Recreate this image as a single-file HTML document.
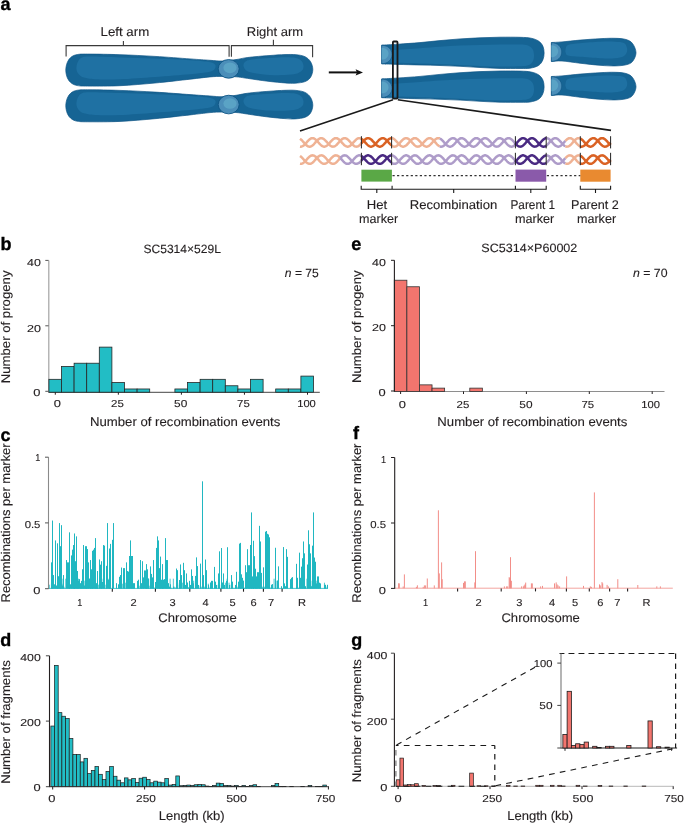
<!DOCTYPE html>
<html><head><meta charset="utf-8"><style>
html,body{margin:0;padding:0;background:#fff;overflow:hidden;}
svg{display:block;will-change:transform;}
text{font-family:"Liberation Sans", sans-serif;}
</style></head><body>
<svg width="685" height="823" viewBox="0 0 685 823" font-family="Liberation Sans, sans-serif" text-rendering="geometricPrecision">
<rect x="0" y="0" width="685" height="823" fill="#fff"/>
<text x="0.50" y="9.60" font-size="18" text-anchor="start" font-weight="bold" fill="#000" stroke="#000" stroke-width="0.35">a</text>
<text x="0.50" y="249.60" font-size="18" text-anchor="start" font-weight="bold" fill="#000" stroke="#000" stroke-width="0.35">b</text>
<text x="0.50" y="440.50" font-size="18" text-anchor="start" font-weight="bold" fill="#000" stroke="#000" stroke-width="0.35">c</text>
<text x="0.30" y="645.80" font-size="18" text-anchor="start" font-weight="bold" fill="#000" stroke="#000" stroke-width="0.35">d</text>
<text x="351.20" y="249.80" font-size="18" text-anchor="start" font-weight="bold" fill="#000" stroke="#000" stroke-width="0.35">e</text>
<text x="353.00" y="439.40" font-size="18" text-anchor="start" font-weight="bold" fill="#000" stroke="#000" stroke-width="0.35">f</text>
<text x="351.20" y="646.20" font-size="18" text-anchor="start" font-weight="bold" fill="#000" stroke="#000" stroke-width="0.35">g</text>
<path d="M66.1,56.5 V45.6 H229.1 V56.8 M123.4,45.6 V40.9" fill="none" stroke="#3a3a3a" stroke-width="1.1"/>
<path d="M231.4,56.8 V45.6 H312.6 V57.2 M273.4,45.6 V39.8" fill="none" stroke="#3a3a3a" stroke-width="1.1"/>
<text x="100.54" y="36.20" font-size="12.6" font-weight="normal" fill="#231f20" stroke="#231f20" stroke-width="0.12" textLength="48.70" lengthAdjust="spacingAndGlyphs">Left arm</text>
<text x="246.76" y="36.00" font-size="12.6" font-weight="normal" fill="#231f20" stroke="#231f20" stroke-width="0.12" textLength="56.48" lengthAdjust="spacingAndGlyphs">Right arm</text>
<path d="M65.80,70.10 C65.80,67.57 66.43,64.65 67.30,62.50 C68.17,60.35 69.30,58.53 71.00,57.20 C72.70,55.87 74.33,55.02 77.50,54.50 C80.67,53.98 82.92,54.07 90.00,54.10 C97.08,54.13 109.17,54.32 120.00,54.70 C130.83,55.08 143.33,55.70 155.00,56.40 C166.67,57.10 180.83,58.25 190.00,58.90 C199.17,59.55 204.67,59.95 210.00,60.30 C215.33,60.65 217.67,61.12 222.00,61.00 C226.33,60.88 232.17,60.12 236.00,59.60 C239.83,59.08 241.83,58.38 245.00,57.90 C248.17,57.42 250.83,57.10 255.00,56.70 C259.17,56.30 265.00,55.85 270.00,55.50 C275.00,55.15 280.67,54.73 285.00,54.60 C289.33,54.47 292.67,54.35 296.00,54.70 C299.33,55.05 302.57,55.52 305.00,56.70 C307.43,57.88 309.30,59.67 310.60,61.80 C311.90,63.93 312.80,66.93 312.80,69.50 C312.80,72.07 311.90,75.18 310.60,77.20 C309.30,79.22 307.60,80.60 305.00,81.60 C302.40,82.60 298.33,82.98 295.00,83.20 C291.67,83.42 289.17,83.18 285.00,82.90 C280.83,82.62 275.00,82.07 270.00,81.50 C265.00,80.93 259.17,80.08 255.00,79.50 C250.83,78.92 248.17,78.45 245.00,78.00 C241.83,77.55 239.83,77.07 236.00,76.80 C232.17,76.53 226.33,76.38 222.00,76.40 C217.67,76.42 215.33,76.43 210.00,76.90 C204.67,77.37 199.17,78.18 190.00,79.20 C180.83,80.22 166.67,81.92 155.00,83.00 C143.33,84.08 130.83,85.18 120.00,85.70 C109.17,86.22 97.08,86.12 90.00,86.10 C82.92,86.08 80.67,86.15 77.50,85.60 C74.33,85.05 72.70,84.12 71.00,82.80 C69.30,81.48 68.17,79.82 67.30,77.70 C66.43,75.58 65.80,72.63 65.80,70.10 Z" fill="#166494" stroke="#0f5585" stroke-width="0.7"/>
<path d="M76.40,68.40 C76.32,66.32 77.07,63.30 78.00,61.50 C78.93,59.70 80.00,58.43 82.00,57.60 C84.00,56.77 83.67,56.53 90.00,56.50 C96.33,56.47 109.17,57.05 120.00,57.40 C130.83,57.75 143.33,58.13 155.00,58.60 C166.67,59.07 181.17,59.67 190.00,60.20 C198.83,60.73 203.92,61.17 208.00,61.80 C212.08,62.43 213.25,63.13 214.50,64.00 C215.75,64.87 215.75,65.92 215.50,67.00 C215.25,68.08 214.75,69.57 213.00,70.50 C211.25,71.43 208.83,71.97 205.00,72.60 C201.17,73.23 198.33,73.57 190.00,74.30 C181.67,75.03 166.67,76.17 155.00,77.00 C143.33,77.83 130.00,78.92 120.00,79.30 C110.00,79.68 101.00,79.58 95.00,79.30 C89.00,79.02 86.75,78.48 84.00,77.60 C81.25,76.72 79.77,75.53 78.50,74.00 C77.23,72.47 76.48,70.48 76.40,68.40 Z" fill="#1f71a3"/>
<path d="M243.50,66.00 C243.25,64.42 244.08,62.60 245.50,61.50 C246.92,60.40 247.92,59.97 252.00,59.40 C256.08,58.83 264.50,58.45 270.00,58.10 C275.50,57.75 280.67,57.32 285.00,57.30 C289.33,57.28 293.25,57.38 296.00,58.00 C298.75,58.62 300.25,59.67 301.50,61.00 C302.75,62.33 303.42,64.42 303.50,66.00 C303.58,67.58 303.25,69.20 302.00,70.50 C300.75,71.80 298.83,73.05 296.00,73.80 C293.17,74.55 289.33,74.82 285.00,75.00 C280.67,75.18 275.00,75.20 270.00,74.90 C265.00,74.60 258.83,73.85 255.00,73.20 C251.17,72.55 248.92,72.20 247.00,71.00 C245.08,69.80 243.75,67.58 243.50,66.00 Z" fill="#1f71a3"/>
<ellipse cx="228.7" cy="68.85" rx="10.5" ry="9.3" fill="#4b8eb9" stroke="#0f5585" stroke-width="0.9"/>
<ellipse cx="230.0" cy="67.85" rx="6.6" ry="5.3" fill="#5aa3c5"/>
<path d="M65.80,105.80 C65.80,103.27 66.43,100.35 67.30,98.20 C68.17,96.05 69.30,94.23 71.00,92.90 C72.70,91.57 74.33,90.72 77.50,90.20 C80.67,89.68 82.92,89.77 90.00,89.80 C97.08,89.83 109.17,90.02 120.00,90.40 C130.83,90.78 143.33,91.40 155.00,92.10 C166.67,92.80 180.83,93.95 190.00,94.60 C199.17,95.25 204.67,95.65 210.00,96.00 C215.33,96.35 217.67,96.82 222.00,96.70 C226.33,96.58 232.17,95.82 236.00,95.30 C239.83,94.78 241.83,94.08 245.00,93.60 C248.17,93.12 250.83,92.80 255.00,92.40 C259.17,92.00 265.00,91.55 270.00,91.20 C275.00,90.85 280.67,90.43 285.00,90.30 C289.33,90.17 292.67,90.05 296.00,90.40 C299.33,90.75 302.57,91.22 305.00,92.40 C307.43,93.58 309.30,95.37 310.60,97.50 C311.90,99.63 312.80,102.63 312.80,105.20 C312.80,107.77 311.90,110.88 310.60,112.90 C309.30,114.92 307.60,116.30 305.00,117.30 C302.40,118.30 298.33,118.68 295.00,118.90 C291.67,119.12 289.17,118.88 285.00,118.60 C280.83,118.32 275.00,117.77 270.00,117.20 C265.00,116.63 259.17,115.78 255.00,115.20 C250.83,114.62 248.17,114.15 245.00,113.70 C241.83,113.25 239.83,112.77 236.00,112.50 C232.17,112.23 226.33,112.08 222.00,112.10 C217.67,112.12 215.33,112.13 210.00,112.60 C204.67,113.07 199.17,113.88 190.00,114.90 C180.83,115.92 166.67,117.62 155.00,118.70 C143.33,119.78 130.83,120.88 120.00,121.40 C109.17,121.92 97.08,121.82 90.00,121.80 C82.92,121.78 80.67,121.85 77.50,121.30 C74.33,120.75 72.70,119.82 71.00,118.50 C69.30,117.18 68.17,115.52 67.30,113.40 C66.43,111.28 65.80,108.33 65.80,105.80 Z" fill="#166494" stroke="#0f5585" stroke-width="0.7"/>
<path d="M76.40,104.10 C76.32,102.02 77.07,99.00 78.00,97.20 C78.93,95.40 80.00,94.13 82.00,93.30 C84.00,92.47 83.67,92.23 90.00,92.20 C96.33,92.17 109.17,92.75 120.00,93.10 C130.83,93.45 143.33,93.83 155.00,94.30 C166.67,94.77 181.17,95.37 190.00,95.90 C198.83,96.43 203.92,96.87 208.00,97.50 C212.08,98.13 213.25,98.83 214.50,99.70 C215.75,100.57 215.75,101.62 215.50,102.70 C215.25,103.78 214.75,105.27 213.00,106.20 C211.25,107.13 208.83,107.67 205.00,108.30 C201.17,108.93 198.33,109.27 190.00,110.00 C181.67,110.73 166.67,111.87 155.00,112.70 C143.33,113.53 130.00,114.62 120.00,115.00 C110.00,115.38 101.00,115.28 95.00,115.00 C89.00,114.72 86.75,114.18 84.00,113.30 C81.25,112.42 79.77,111.23 78.50,109.70 C77.23,108.17 76.48,106.18 76.40,104.10 Z" fill="#1f71a3"/>
<path d="M243.50,101.70 C243.25,100.12 244.08,98.30 245.50,97.20 C246.92,96.10 247.92,95.67 252.00,95.10 C256.08,94.53 264.50,94.15 270.00,93.80 C275.50,93.45 280.67,93.02 285.00,93.00 C289.33,92.98 293.25,93.08 296.00,93.70 C298.75,94.32 300.25,95.37 301.50,96.70 C302.75,98.03 303.42,100.12 303.50,101.70 C303.58,103.28 303.25,104.90 302.00,106.20 C300.75,107.50 298.83,108.75 296.00,109.50 C293.17,110.25 289.33,110.52 285.00,110.70 C280.67,110.88 275.00,110.90 270.00,110.60 C265.00,110.30 258.83,109.55 255.00,108.90 C251.17,108.25 248.92,107.90 247.00,106.70 C245.08,105.50 243.75,103.28 243.50,101.70 Z" fill="#1f71a3"/>
<ellipse cx="228.7" cy="104.55" rx="10.5" ry="9.3" fill="#4b8eb9" stroke="#0f5585" stroke-width="0.9"/>
<ellipse cx="230.0" cy="103.55" rx="6.6" ry="5.3" fill="#5aa3c5"/>
<line x1="328.80" y1="72.40" x2="358.50" y2="72.40" stroke="#111" stroke-width="2.0" />
<path d="M355.6,69.2 L363.0,72.4 L355.6,75.6 L357.0,72.4 Z" fill="#111"/>
<path d="M381.70,45.10 C384.42,44.95 391.62,44.62 398.00,44.20 C404.38,43.78 413.00,43.20 420.00,42.60 C427.00,42.00 433.33,41.22 440.00,40.60 C446.67,39.98 453.33,39.37 460.00,38.90 C466.67,38.43 473.33,38.08 480.00,37.80 C486.67,37.52 493.33,37.28 500.00,37.20 C506.67,37.12 514.83,37.13 520.00,37.30 C525.17,37.47 527.92,37.58 531.00,38.20 C534.08,38.82 536.53,39.70 538.50,41.00 C540.47,42.30 541.87,44.00 542.80,46.00 C543.73,48.00 544.10,50.67 544.10,53.00 C544.10,55.33 543.73,57.92 542.80,60.00 C541.87,62.08 540.63,64.13 538.50,65.50 C536.37,66.87 533.08,67.70 530.00,68.20 C526.92,68.70 525.00,68.47 520.00,68.50 C515.00,68.53 506.67,68.57 500.00,68.40 C493.33,68.23 486.67,67.85 480.00,67.50 C473.33,67.15 466.67,66.63 460.00,66.30 C453.33,65.97 446.67,65.72 440.00,65.50 C433.33,65.28 427.00,65.18 420.00,65.00 C413.00,64.82 404.38,64.58 398.00,64.40 C391.62,64.22 384.42,63.98 381.70,63.90 Z" fill="#166494" stroke="#0f5585" stroke-width="0.7" stroke-linejoin="round"/>
<path d="M384.00,62.60 C385.33,62.62 386.00,62.57 392.00,62.70 C398.00,62.83 412.00,63.18 420.00,63.40 C428.00,63.62 433.33,63.73 440.00,64.00 C446.67,64.27 453.33,64.67 460.00,65.00 C466.67,65.33 473.33,65.73 480.00,66.00 C486.67,66.27 493.33,66.55 500.00,66.60 C506.67,66.65 515.17,66.57 520.00,66.30 C524.83,66.03 526.83,65.88 529.00,65.00 C531.17,64.12 532.17,62.67 533.00,61.00 C533.83,59.33 534.08,57.00 534.00,55.00 C533.92,53.00 533.50,50.58 532.50,49.00 C531.50,47.42 530.08,46.25 528.00,45.50 C525.92,44.75 524.67,44.67 520.00,44.50 C515.33,44.33 506.67,44.42 500.00,44.50 C493.33,44.58 486.67,44.82 480.00,45.00 C473.33,45.18 466.67,45.30 460.00,45.60 C453.33,45.90 446.67,46.37 440.00,46.80 C433.33,47.23 428.00,47.67 420.00,48.20 C412.00,48.73 398.00,49.63 392.00,50.00 C386.00,50.37 385.33,50.33 384.00,50.40 Z" fill="#1f71a3"/>
<path d="M381.7,45.30 C388.2,45.30 392.0,49.50 392.0,54.50 C392.0,59.50 388.2,63.70 381.7,63.70 Z" fill="#4b8eb9" stroke="#0f5585" stroke-width="0.6"/>
<path d="M381.7,47.80 C385.7,47.80 388.5,50.50 388.5,53.50 C388.5,57.00 385.7,59.70 381.7,59.70 Z" fill="#5aa3c5"/>
<path d="M381.70,78.90 C384.42,78.75 391.62,78.42 398.00,78.00 C404.38,77.58 413.00,77.00 420.00,76.40 C427.00,75.80 433.33,75.02 440.00,74.40 C446.67,73.78 453.33,73.17 460.00,72.70 C466.67,72.23 473.33,71.88 480.00,71.60 C486.67,71.32 493.33,71.08 500.00,71.00 C506.67,70.92 514.83,70.93 520.00,71.10 C525.17,71.27 527.92,71.38 531.00,72.00 C534.08,72.62 536.53,73.50 538.50,74.80 C540.47,76.10 541.87,77.80 542.80,79.80 C543.73,81.80 544.10,84.47 544.10,86.80 C544.10,89.13 543.73,91.72 542.80,93.80 C541.87,95.88 540.63,97.93 538.50,99.30 C536.37,100.67 533.08,101.50 530.00,102.00 C526.92,102.50 525.00,102.27 520.00,102.30 C515.00,102.33 506.67,102.37 500.00,102.20 C493.33,102.03 486.67,101.65 480.00,101.30 C473.33,100.95 466.67,100.43 460.00,100.10 C453.33,99.77 446.67,99.52 440.00,99.30 C433.33,99.08 427.00,98.98 420.00,98.80 C413.00,98.62 404.38,98.38 398.00,98.20 C391.62,98.02 384.42,97.78 381.70,97.70 Z" fill="#166494" stroke="#0f5585" stroke-width="0.7" stroke-linejoin="round"/>
<path d="M384.00,96.40 C385.33,96.42 386.00,96.37 392.00,96.50 C398.00,96.63 412.00,96.98 420.00,97.20 C428.00,97.42 433.33,97.53 440.00,97.80 C446.67,98.07 453.33,98.47 460.00,98.80 C466.67,99.13 473.33,99.53 480.00,99.80 C486.67,100.07 493.33,100.35 500.00,100.40 C506.67,100.45 515.17,100.37 520.00,100.10 C524.83,99.83 526.83,99.68 529.00,98.80 C531.17,97.92 532.17,96.47 533.00,94.80 C533.83,93.13 534.08,90.80 534.00,88.80 C533.92,86.80 533.50,84.38 532.50,82.80 C531.50,81.22 530.08,80.05 528.00,79.30 C525.92,78.55 524.67,78.47 520.00,78.30 C515.33,78.13 506.67,78.22 500.00,78.30 C493.33,78.38 486.67,78.62 480.00,78.80 C473.33,78.98 466.67,79.10 460.00,79.40 C453.33,79.70 446.67,80.17 440.00,80.60 C433.33,81.03 428.00,81.47 420.00,82.00 C412.00,82.53 398.00,83.43 392.00,83.80 C386.00,84.17 385.33,84.13 384.00,84.20 Z" fill="#1f71a3"/>
<path d="M381.7,79.10 C388.2,79.10 392.0,83.30 392.0,88.30 C392.0,93.30 388.2,97.50 381.7,97.50 Z" fill="#4b8eb9" stroke="#0f5585" stroke-width="0.6"/>
<path d="M381.7,81.60 C385.7,81.60 388.5,84.30 388.5,87.30 C388.5,90.80 385.7,93.50 381.7,93.50 Z" fill="#5aa3c5"/>
<path d="M551.40,42.50 C553.17,42.40 557.23,42.30 562.00,41.90 C566.77,41.50 573.67,40.63 580.00,40.10 C586.33,39.57 594.17,39.00 600.00,38.70 C605.83,38.40 610.67,38.17 615.00,38.30 C619.33,38.43 623.08,38.63 626.00,39.50 C628.92,40.37 630.83,41.28 632.50,43.50 C634.17,45.72 636.00,49.80 636.00,52.80 C636.00,55.80 634.17,59.50 632.50,61.50 C630.83,63.50 628.92,64.07 626.00,64.80 C623.08,65.53 619.33,65.82 615.00,65.90 C610.67,65.98 605.83,65.75 600.00,65.30 C594.17,64.85 586.33,63.92 580.00,63.20 C573.67,62.48 566.77,61.28 562.00,61.00 C557.23,60.72 553.17,61.42 551.40,61.50 Z" fill="#166494" stroke="#0f5585" stroke-width="0.7" stroke-linejoin="round"/>
<path d="M565.50,50.00 C565.87,48.67 565.58,46.13 568.00,45.00 C570.42,43.87 574.67,43.73 580.00,43.20 C585.33,42.67 594.17,42.05 600.00,41.80 C605.83,41.55 611.00,41.50 615.00,41.70 C619.00,41.90 622.00,41.95 624.00,43.00 C626.00,44.05 626.58,46.33 627.00,48.00 C627.42,49.67 627.33,51.50 626.50,53.00 C625.67,54.50 624.42,56.10 622.00,57.00 C619.58,57.90 615.67,58.20 612.00,58.40 C608.33,58.60 605.33,58.47 600.00,58.20 C594.67,57.93 585.33,57.25 580.00,56.80 C574.67,56.35 570.37,56.13 568.00,55.50 C565.63,54.87 566.22,53.92 565.80,53.00 C565.38,52.08 565.13,51.33 565.50,50.00 Z" fill="#1f71a3"/>
<path d="M551.4,42.70 C557.9,42.70 561.6999999999999,47.00 561.6999999999999,52.00 C561.6999999999999,57.00 557.9,61.30 551.4,61.30 Z" fill="#4b8eb9" stroke="#0f5585" stroke-width="0.6"/>
<path d="M551.4,45.20 C555.4,45.20 558.1999999999999,48.00 558.1999999999999,51.00 C558.1999999999999,54.50 555.4,57.30 551.4,57.30 Z" fill="#5aa3c5"/>
<path d="M551.40,76.50 C553.17,76.40 557.23,76.30 562.00,75.90 C566.77,75.50 573.67,74.63 580.00,74.10 C586.33,73.57 594.17,73.00 600.00,72.70 C605.83,72.40 610.67,72.17 615.00,72.30 C619.33,72.43 623.08,72.63 626.00,73.50 C628.92,74.37 630.83,75.28 632.50,77.50 C634.17,79.72 636.00,83.80 636.00,86.80 C636.00,89.80 634.17,93.50 632.50,95.50 C630.83,97.50 628.92,98.07 626.00,98.80 C623.08,99.53 619.33,99.82 615.00,99.90 C610.67,99.98 605.83,99.75 600.00,99.30 C594.17,98.85 586.33,97.92 580.00,97.20 C573.67,96.48 566.77,95.28 562.00,95.00 C557.23,94.72 553.17,95.42 551.40,95.50 Z" fill="#166494" stroke="#0f5585" stroke-width="0.7" stroke-linejoin="round"/>
<path d="M565.50,84.00 C565.87,82.67 565.58,80.13 568.00,79.00 C570.42,77.87 574.67,77.73 580.00,77.20 C585.33,76.67 594.17,76.05 600.00,75.80 C605.83,75.55 611.00,75.50 615.00,75.70 C619.00,75.90 622.00,75.95 624.00,77.00 C626.00,78.05 626.58,80.33 627.00,82.00 C627.42,83.67 627.33,85.50 626.50,87.00 C625.67,88.50 624.42,90.10 622.00,91.00 C619.58,91.90 615.67,92.20 612.00,92.40 C608.33,92.60 605.33,92.47 600.00,92.20 C594.67,91.93 585.33,91.25 580.00,90.80 C574.67,90.35 570.37,90.13 568.00,89.50 C565.63,88.87 566.22,87.92 565.80,87.00 C565.38,86.08 565.13,85.33 565.50,84.00 Z" fill="#1f71a3"/>
<path d="M551.4,76.70 C557.9,76.70 561.6999999999999,81.00 561.6999999999999,86.00 C561.6999999999999,91.00 557.9,95.30 551.4,95.30 Z" fill="#4b8eb9" stroke="#0f5585" stroke-width="0.6"/>
<path d="M551.4,79.20 C555.4,79.20 558.1999999999999,82.00 558.1999999999999,85.00 C558.1999999999999,88.50 555.4,91.30 551.4,91.30 Z" fill="#5aa3c5"/>
<rect x="392.9" y="41.5" width="4.6" height="57.1" rx="0.8" fill="none" stroke="#1a1a1a" stroke-width="1.8"/>
<path d="M300,131 L393,99.8 M397.8,99.8 L611,130.4" fill="none" stroke="#1a1a1a" stroke-width="1.6"/>
<polyline points="300.00,146.55 300.50,146.64 301.00,146.64 301.50,146.58 302.00,146.43 302.50,146.22 303.00,145.93 303.49,145.59 303.99,145.18 304.49,144.73 304.99,144.23 305.49,143.70 305.99,143.15 306.49,142.58 306.99,142.01 307.49,141.45 307.99,140.91 308.49,140.39 308.99,139.91 309.48,139.47 309.98,139.08 310.48,138.76 310.98,138.50 311.48,138.31 311.98,138.19 312.48,138.15 312.98,138.19 313.48,138.30 313.98,138.48 314.48,138.73 314.98,139.05 315.47,139.44 315.97,139.87 316.47,140.35 316.97,140.86 317.47,141.41 317.97,141.97 318.47,142.54 318.97,143.10 319.47,143.66 319.97,144.19 320.47,144.69 320.97,145.15 321.47,145.55 321.96,145.91 322.46,146.20 322.96,146.42 323.46,146.57 323.96,146.64 324.46,146.64 324.96,146.56 325.46,146.41 325.96,146.19 326.46,145.89 326.96,145.54 327.46,145.13 327.95,144.67 328.45,144.17 328.95,143.63 329.45,143.08 329.95,142.51 330.45,141.94 330.95,141.38 331.45,140.84 331.95,140.33 332.45,139.85 332.95,139.42 333.45,139.04 333.94,138.72 334.44,138.47 334.94,138.29 335.44,138.18 335.94,138.15 336.44,138.19 336.94,138.31 337.44,138.51 337.94,138.77 338.44,139.10 338.94,139.49 339.44,139.93 339.93,140.41 340.43,140.93 340.93,141.48 341.43,142.04 341.93,142.61 342.43,143.17 342.93,143.72 343.43,144.25 343.93,144.75 344.43,145.20 344.93,145.60 345.43,145.95 345.93,146.23 346.42,146.44 346.92,146.58 347.42,146.65 347.92,146.63 348.42,146.55 348.92,146.39 349.42,146.15 349.92,145.85 350.42,145.49 350.92,145.07 351.42,144.61 351.92,144.10 352.41,143.57 352.91,143.01 353.41,142.44 353.91,141.87 354.41,141.32 354.91,140.78 355.41,140.27 355.91,139.79 356.41,139.37 356.91,139.00 357.41,138.69 357.91,138.44 358.40,138.27 358.90,138.17 359.40,138.15 359.90,138.21 360.40,138.33 360.90,138.54 361.40,138.81" fill="none" stroke="#efb294" stroke-width="2.5" stroke-linecap="butt"/>
<polyline points="300.00,138.81 300.50,139.14 301.00,139.54 301.50,139.98 302.00,140.47 302.50,141.00 303.00,141.54 303.49,142.11 303.99,142.68 304.49,143.24 304.99,143.79 305.49,144.32 305.99,144.81 306.49,145.25 306.99,145.65 307.49,145.98 307.99,146.26 308.49,146.46 308.99,146.59 309.48,146.65 309.98,146.63 310.48,146.53 310.98,146.36 311.48,146.12 311.98,145.81 312.48,145.44 312.98,145.02 313.48,144.55 313.98,144.04 314.48,143.50 314.98,142.94 315.47,142.37 315.97,141.80 316.47,141.25 316.97,140.71 317.47,140.20 317.97,139.74 318.47,139.32 318.97,138.96 319.47,138.65 319.97,138.42 320.47,138.26 320.97,138.17 321.47,138.15 321.96,138.22 322.46,138.36 322.96,138.57 323.46,138.85 323.96,139.19 324.46,139.59 324.96,140.04 325.46,140.54 325.96,141.06 326.46,141.61 326.96,142.18 327.46,142.75 327.95,143.31 328.45,143.86 328.95,144.38 329.45,144.86 329.95,145.30 330.45,145.69 330.95,146.02 331.45,146.29 331.95,146.48 332.45,146.60 332.95,146.65 333.45,146.62 333.94,146.51 334.44,146.33 334.94,146.08 335.44,145.77 335.94,145.39 336.44,144.96 336.94,144.49 337.44,143.97 337.94,143.43 338.44,142.87 338.94,142.30 339.44,141.73 339.93,141.18 340.43,140.65 340.93,140.14 341.43,139.68 341.93,139.27 342.43,138.91 342.93,138.62 343.43,138.40 343.93,138.24 344.43,138.16 344.93,138.16 345.43,138.23 345.93,138.38 346.42,138.60 346.92,138.89 347.42,139.24 347.92,139.64 348.42,140.10 348.92,140.60 349.42,141.13 349.92,141.68 350.42,142.25 350.92,142.82 351.42,143.38 351.92,143.92 352.41,144.44 352.91,144.92 353.41,145.35 353.91,145.74 354.41,146.06 354.91,146.31 355.41,146.50 355.91,146.61 356.41,146.65 356.91,146.61 357.41,146.50 357.91,146.31 358.40,146.05 358.90,145.72 359.40,145.34 359.90,144.91 360.40,144.42 360.90,143.91 361.40,143.36" fill="none" stroke="#efb294" stroke-width="2.5" stroke-linecap="butt"/>
<polyline points="361.40,138.81 361.89,139.14 362.38,139.53 362.88,139.96 363.37,140.44 363.86,140.96 364.35,141.49 364.84,142.05 365.33,142.61 365.83,143.17 366.32,143.71 366.81,144.23 367.30,144.72 367.79,145.17 368.29,145.57 368.78,145.92 369.27,146.20 369.76,146.42 370.25,146.56 370.74,146.64 371.24,146.64 371.73,146.57 372.22,146.42 372.71,146.21 373.20,145.93 373.70,145.58 374.19,145.19 374.68,144.74 375.17,144.25 375.66,143.73 376.15,143.19 376.65,142.63 377.14,142.07 377.63,141.52 378.12,140.98 378.61,140.46 379.10,139.98 379.60,139.54 380.09,139.15 380.58,138.82 381.07,138.55 381.56,138.35 382.06,138.21 382.55,138.15 383.04,138.17 383.53,138.26 384.02,138.42 384.51,138.64 385.01,138.94 385.50,139.29 385.99,139.70 386.48,140.16 386.97,140.65 387.47,141.18 387.96,141.73 388.45,142.28 388.94,142.85 389.43,143.40 389.92,143.93 390.42,144.44 390.91,144.91 391.40,145.34" fill="none" stroke="#da6224" stroke-width="2.5" stroke-linecap="butt"/>
<polyline points="361.40,143.36 361.89,142.81 362.38,142.25 362.88,141.69 363.37,141.14 363.86,140.62 364.35,140.13 364.84,139.67 365.33,139.27 365.83,138.92 366.32,138.63 366.81,138.40 367.30,138.25 367.79,138.16 368.29,138.16 368.78,138.22 369.27,138.36 369.76,138.57 370.25,138.84 370.74,139.18 371.24,139.57 371.73,140.01 372.22,140.50 372.71,141.01 373.20,141.55 373.70,142.11 374.19,142.67 374.68,143.23 375.17,143.77 375.66,144.29 376.15,144.77 376.65,145.21 377.14,145.61 377.63,145.95 378.12,146.23 378.61,146.44 379.10,146.58 379.60,146.64 380.09,146.64 380.58,146.56 381.07,146.40 381.56,146.18 382.06,145.89 382.55,145.54 383.04,145.14 383.53,144.69 384.02,144.20 384.51,143.68 385.01,143.13 385.50,142.57 385.99,142.01 386.48,141.46 386.97,140.92 387.47,140.41 387.96,139.93 388.45,139.50 388.94,139.11 389.43,138.79 389.92,138.52 390.42,138.33 390.91,138.20 391.40,138.15" fill="none" stroke="#da6224" stroke-width="2.5" stroke-linecap="butt"/>
<polyline points="391.40,145.34 391.90,145.73 392.40,146.05 392.90,146.31 393.40,146.50 393.89,146.61 394.39,146.65 394.89,146.61 395.39,146.50 395.89,146.31 396.39,146.06 396.89,145.74 397.39,145.35 397.89,144.92 398.39,144.44 398.88,143.92 399.38,143.38 399.88,142.82 400.38,142.25 400.88,141.68 401.38,141.13 401.88,140.60 402.38,140.10 402.88,139.65 403.38,139.24 403.87,138.89 404.37,138.60 404.87,138.38 405.37,138.23 405.87,138.16 406.37,138.16 406.87,138.24 407.37,138.39 407.87,138.62 408.36,138.91 408.86,139.27 409.36,139.68 409.86,140.14 410.36,140.64 410.86,141.17 411.36,141.73 411.86,142.29 412.36,142.86 412.86,143.42 413.35,143.97 413.85,144.48 414.35,144.96 414.85,145.39 415.35,145.76 415.85,146.08 416.35,146.33 416.85,146.51 417.35,146.62 417.85,146.65 418.34,146.60 418.84,146.48 419.34,146.29 419.84,146.03 420.34,145.70 420.84,145.31 421.34,144.87 421.84,144.39 422.34,143.87 422.84,143.32 423.33,142.76 423.83,142.19 424.33,141.63 424.83,141.07 425.33,140.55 425.83,140.05 426.33,139.60 426.83,139.20 427.33,138.85 427.82,138.57 428.32,138.36 428.82,138.22 429.32,138.15 429.82,138.17 430.32,138.25 430.82,138.41 431.32,138.65 431.82,138.95 432.32,139.31 432.81,139.72 433.31,140.19 433.81,140.69 434.31,141.23 434.81,141.79 435.31,142.35 435.81,142.92 436.31,143.48 436.81,144.02 437.31,144.53 437.80,145.00 438.30,145.43 438.80,145.80 439.30,146.11 439.80,146.35" fill="none" stroke="#efb294" stroke-width="2.5" stroke-linecap="butt"/>
<polyline points="391.40,138.15 391.90,138.17 392.40,138.27 392.90,138.45 393.40,138.69 393.89,139.00 394.39,139.37 394.89,139.79 395.39,140.27 395.89,140.78 396.39,141.32 396.89,141.87 397.39,142.44 397.89,143.01 398.39,143.57 398.88,144.10 399.38,144.61 399.88,145.07 400.38,145.49 400.88,145.85 401.38,146.15 401.88,146.39 402.38,146.55 402.88,146.63 403.38,146.65 403.87,146.58 404.37,146.44 404.87,146.23 405.37,145.95 405.87,145.60 406.37,145.20 406.87,144.75 407.37,144.26 407.87,143.73 408.36,143.18 408.86,142.61 409.36,142.04 409.86,141.48 410.36,140.93 410.86,140.42 411.36,139.93 411.86,139.49 412.36,139.10 412.86,138.77 413.35,138.51 413.85,138.32 414.35,138.20 414.85,138.15 415.35,138.18 415.85,138.29 416.35,138.47 416.85,138.72 417.35,139.03 417.85,139.41 418.34,139.84 418.84,140.32 419.34,140.83 419.84,141.37 420.34,141.93 420.84,142.50 421.34,143.07 421.84,143.62 422.34,144.16 422.84,144.66 423.33,145.12 423.83,145.53 424.33,145.89 424.83,146.18 425.33,146.41 425.83,146.56 426.33,146.64 426.83,146.64 427.33,146.57 427.82,146.42 428.32,146.20 428.82,145.92 429.32,145.56 429.82,145.16 430.32,144.70 430.82,144.20 431.32,143.67 431.82,143.12 432.32,142.55 432.81,141.98 433.31,141.42 433.81,140.88 434.31,140.36 434.81,139.88 435.31,139.45 435.81,139.07 436.31,138.74 436.81,138.49 437.31,138.30 437.80,138.19 438.30,138.15 438.80,138.19 439.30,138.30 439.80,138.49" fill="none" stroke="#efb294" stroke-width="2.5" stroke-linecap="butt"/>
<polyline points="439.80,146.35 440.30,146.53 440.80,146.63 441.30,146.65 441.80,146.59 442.30,146.47 442.80,146.26 443.30,145.99 443.80,145.66 444.30,145.26 444.80,144.81 445.30,144.32 445.80,143.80 446.30,143.25 446.80,142.69 447.30,142.11 447.80,141.55 448.30,141.00 448.80,140.48 449.30,139.99 449.80,139.54 450.30,139.14 450.80,138.81 451.30,138.54 451.80,138.33 452.30,138.21 452.80,138.15 453.30,138.17 453.80,138.27 454.30,138.45 454.80,138.69 455.30,139.00 455.80,139.37 456.30,139.80 456.80,140.28 457.30,140.79 457.80,141.33 458.30,141.89 458.80,142.46 459.30,143.03 459.80,143.58 460.30,144.12 460.80,144.62 461.30,145.09 461.80,145.50 462.30,145.86 462.80,146.16 463.30,146.39 463.80,146.55 464.30,146.64 464.80,146.64 465.30,146.58 465.80,146.43 466.30,146.21 466.80,145.93 467.30,145.58 467.80,145.18 468.30,144.72 468.80,144.22 469.30,143.69 469.80,143.14 470.30,142.57 470.80,142.00 471.30,141.44 471.80,140.89 472.30,140.37 472.80,139.89 473.30,139.46 473.80,139.07 474.30,138.75 474.80,138.49 475.30,138.30 475.80,138.19 476.30,138.15 476.80,138.19 477.30,138.30 477.80,138.49 478.30,138.75 478.80,139.07 479.30,139.46 479.80,139.89 480.30,140.37 480.80,140.89 481.30,141.44 481.80,142.00 482.30,142.57 482.80,143.14 483.30,143.69 483.80,144.22 484.30,144.72 484.80,145.18 485.30,145.58 485.80,145.93 486.30,146.21 486.80,146.43 487.30,146.58 487.80,146.64 488.30,146.64 488.80,146.55 489.30,146.39 489.80,146.16 490.30,145.86 490.80,145.50 491.30,145.09 491.80,144.62 492.30,144.12 492.80,143.58 493.30,143.03 493.80,142.46 494.30,141.89 494.80,141.33 495.30,140.79 495.80,140.28 496.30,139.80 496.80,139.37 497.30,139.00 497.80,138.69 498.30,138.45 498.80,138.27 499.30,138.17 499.80,138.15 500.30,138.21 500.80,138.33 501.30,138.54 501.80,138.81 502.30,139.14 502.80,139.54 503.30,139.99 503.80,140.48 504.30,141.00 504.80,141.55 505.30,142.11 505.80,142.69 506.30,143.25 506.80,143.80 507.30,144.32 507.80,144.81 508.30,145.26 508.80,145.66 509.30,145.99 509.80,146.26 510.30,146.47 510.80,146.59 511.30,146.65 511.80,146.63 512.30,146.53 512.80,146.35 513.30,146.11 513.80,145.80 514.30,145.43 514.80,145.00 515.30,144.53" fill="none" stroke="#ae9cc9" stroke-width="2.5" stroke-linecap="butt"/>
<polyline points="439.80,138.49 440.30,138.75 440.80,139.07 441.30,139.46 441.80,139.89 442.30,140.37 442.80,140.89 443.30,141.44 443.80,142.00 444.30,142.57 444.80,143.14 445.30,143.69 445.80,144.22 446.30,144.72 446.80,145.18 447.30,145.58 447.80,145.93 448.30,146.21 448.80,146.43 449.30,146.58 449.80,146.64 450.30,146.64 450.80,146.55 451.30,146.39 451.80,146.16 452.30,145.86 452.80,145.50 453.30,145.09 453.80,144.62 454.30,144.12 454.80,143.58 455.30,143.03 455.80,142.46 456.30,141.89 456.80,141.33 457.30,140.79 457.80,140.28 458.30,139.80 458.80,139.37 459.30,139.00 459.80,138.69 460.30,138.45 460.80,138.27 461.30,138.17 461.80,138.15 462.30,138.21 462.80,138.33 463.30,138.54 463.80,138.81 464.30,139.14 464.80,139.54 465.30,139.99 465.80,140.48 466.30,141.00 466.80,141.55 467.30,142.11 467.80,142.69 468.30,143.25 468.80,143.80 469.30,144.32 469.80,144.81 470.30,145.26 470.80,145.66 471.30,145.99 471.80,146.26 472.30,146.47 472.80,146.59 473.30,146.65 473.80,146.63 474.30,146.53 474.80,146.35 475.30,146.11 475.80,145.80 476.30,145.43 476.80,145.00 477.30,144.53 477.80,144.01 478.30,143.47 478.80,142.91 479.30,142.34 479.80,141.77 480.30,141.22 480.80,140.68 481.30,140.18 481.80,139.71 482.30,139.30 482.80,138.94 483.30,138.64 483.80,138.41 484.30,138.25 484.80,138.16 485.30,138.16 485.80,138.22 486.30,138.37 486.80,138.59 487.30,138.87 487.80,139.22 488.30,139.62 488.80,140.08 489.30,140.58 489.80,141.11 490.30,141.66 490.80,142.23 491.30,142.80 491.80,143.36 492.30,143.91 492.80,144.43 493.30,144.91 493.80,145.34 494.30,145.73 494.80,146.05 495.30,146.31 495.80,146.50 496.30,146.61 496.80,146.65 497.30,146.61 497.80,146.50 498.30,146.31 498.80,146.05 499.30,145.73 499.80,145.34 500.30,144.91 500.80,144.43 501.30,143.91 501.80,143.36 502.30,142.80 502.80,142.23 503.30,141.66 503.80,141.11 504.30,140.58 504.80,140.08 505.30,139.62 505.80,139.22 506.30,138.87 506.80,138.59 507.30,138.37 507.80,138.22 508.30,138.16 508.80,138.16 509.30,138.25 509.80,138.41 510.30,138.64 510.80,138.94 511.30,139.30 511.80,139.71 512.30,140.18 512.80,140.68 513.30,141.22 513.80,141.77 514.30,142.34 514.80,142.91 515.30,143.47" fill="none" stroke="#ae9cc9" stroke-width="2.5" stroke-linecap="butt"/>
<polyline points="515.30,144.53 515.80,144.01 516.30,143.48 516.80,142.92 517.29,142.35 517.79,141.78 518.29,141.23 518.79,140.69 519.29,140.19 519.79,139.72 520.28,139.31 520.78,138.95 521.28,138.65 521.78,138.41 522.28,138.25 522.78,138.17 523.27,138.15 523.77,138.22 524.27,138.36 524.77,138.57 525.27,138.85 525.77,139.19 526.26,139.59 526.76,140.05 527.26,140.54 527.76,141.06 528.26,141.61 528.76,142.18 529.25,142.75 529.75,143.31 530.25,143.86 530.75,144.38 531.25,144.86 531.75,145.30 532.25,145.69 532.74,146.02 533.24,146.28 533.74,146.48 534.24,146.60 534.74,146.65 535.24,146.62 535.73,146.52 536.23,146.34 536.73,146.09 537.23,145.78 537.73,145.40 538.23,144.98 538.72,144.50 539.22,143.99 539.72,143.45 540.22,142.89 540.72,142.32 541.22,141.76 541.71,141.20 542.21,140.67 542.71,140.17 543.21,139.70 543.71,139.29 544.21,138.93 544.70,138.63 545.20,138.41 545.70,138.25 546.20,138.16" fill="none" stroke="#4a2a82" stroke-width="2.5" stroke-linecap="butt"/>
<polyline points="515.30,143.47 515.80,144.01 516.30,144.52 516.80,144.99 517.29,145.42 517.79,145.79 518.29,146.10 518.79,146.35 519.29,146.52 519.79,146.62 520.28,146.65 520.78,146.60 521.28,146.47 521.78,146.27 522.28,146.01 522.78,145.67 523.27,145.28 523.77,144.84 524.27,144.35 524.77,143.83 525.27,143.29 525.77,142.72 526.26,142.16 526.76,141.59 527.26,141.04 527.76,140.52 528.26,140.03 528.76,139.58 529.25,139.18 529.75,138.84 530.25,138.56 530.75,138.35 531.25,138.21 531.75,138.15 532.25,138.17 532.74,138.26 533.24,138.42 533.74,138.66 534.24,138.96 534.74,139.32 535.24,139.74 535.73,140.21 536.23,140.72 536.73,141.25 537.23,141.81 537.73,142.37 538.23,142.94 538.72,143.50 539.22,144.04 539.72,144.55 540.22,145.02 540.72,145.44 541.22,145.81 541.71,146.12 542.21,146.36 542.71,146.53 543.21,146.63 543.71,146.65 544.21,146.59 544.70,146.46 545.20,146.26 545.70,145.99 546.20,145.66" fill="none" stroke="#4a2a82" stroke-width="2.5" stroke-linecap="butt"/>
<polyline points="546.20,138.16 546.69,138.16 547.18,138.22 547.68,138.36 548.17,138.57 548.66,138.85 549.15,139.18 549.65,139.58 550.14,140.02 550.63,140.51 551.12,141.03 551.62,141.57 552.11,142.12 552.60,142.69 553.09,143.24 553.58,143.78 554.08,144.30 554.57,144.79 555.06,145.23 555.55,145.62 556.05,145.96 556.54,146.23 557.03,146.44 557.52,146.58 558.02,146.64 558.51,146.64 559.00,146.55 559.49,146.40 559.98,146.17 560.48,145.88 560.97,145.53 561.46,145.12 561.95,144.67 562.45,144.17 562.94,143.65 563.43,143.10 563.92,142.54 564.42,141.98 564.91,141.43 565.40,140.89" fill="none" stroke="#ae9cc9" stroke-width="2.5" stroke-linecap="butt"/>
<polyline points="546.20,145.66 546.69,145.27 547.18,144.83 547.68,144.35 548.17,143.83 548.66,143.29 549.15,142.74 549.65,142.18 550.14,141.62 550.63,141.07 551.12,140.55 551.62,140.07 552.11,139.62 552.60,139.22 553.09,138.88 553.58,138.59 554.08,138.38 554.57,138.23 555.06,138.16 555.55,138.16 556.05,138.24 556.54,138.38 557.03,138.60 557.52,138.88 558.02,139.23 558.51,139.63 559.00,140.08 559.49,140.57 559.98,141.09 560.48,141.64 560.97,142.19 561.46,142.76 561.95,143.31 562.45,143.85 562.94,144.36 563.43,144.84 563.92,145.28 564.42,145.67 564.91,146.00 565.40,146.26" fill="none" stroke="#ae9cc9" stroke-width="2.5" stroke-linecap="butt"/>
<polyline points="565.40,140.89 565.90,140.38 566.39,139.90 566.89,139.46 567.39,139.08 567.88,138.76 568.38,138.50 568.88,138.31 569.37,138.19 569.87,138.15 570.37,138.18 570.86,138.29 571.36,138.47 571.86,138.72 572.35,139.04 572.85,139.42 573.35,139.84 573.84,140.32 574.34,140.83 574.84,141.37 575.33,141.93 575.83,142.49 576.33,143.06 576.82,143.61 577.32,144.14 577.82,144.64 578.31,145.10 578.81,145.51 579.31,145.87 579.80,146.16 580.30,146.39" fill="none" stroke="#efb294" stroke-width="2.5" stroke-linecap="butt"/>
<polyline points="565.40,146.26 565.90,146.46 566.39,146.59 566.89,146.65 567.39,146.63 567.88,146.53 568.38,146.36 568.88,146.12 569.37,145.82 569.87,145.45 570.37,145.03 570.86,144.56 571.36,144.06 571.86,143.52 572.35,142.97 572.85,142.40 573.35,141.83 573.84,141.28 574.34,140.74 574.84,140.24 575.33,139.77 575.83,139.35 576.33,138.98 576.82,138.68 577.32,138.44 577.82,138.27 578.31,138.17 578.81,138.15 579.31,138.21 579.80,138.34 580.30,138.54" fill="none" stroke="#efb294" stroke-width="2.5" stroke-linecap="butt"/>
<polyline points="580.30,146.39 580.80,146.55 581.29,146.64 581.79,146.64 582.29,146.58 582.78,146.44 583.28,146.22 583.78,145.94 584.27,145.60 584.77,145.20 585.27,144.75 585.76,144.26 586.26,143.73 586.76,143.19 587.25,142.62 587.75,142.06 588.25,141.50 588.74,140.95 589.24,140.43 589.74,139.95 590.23,139.51 590.73,139.12 591.23,138.79 591.72,138.52 592.22,138.33 592.72,138.20 593.21,138.15 593.71,138.18 594.21,138.28 594.70,138.45 595.20,138.69 595.70,139.00 596.20,139.37 596.69,139.79 597.19,140.26 597.69,140.77 598.18,141.31 598.68,141.86 599.18,142.43 599.67,142.99 600.17,143.55 600.67,144.08 601.16,144.59 601.66,145.05 602.16,145.47 602.65,145.83 603.15,146.14 603.65,146.37 604.14,146.54 604.64,146.63 605.14,146.65 605.63,146.59 606.13,146.46 606.63,146.25 607.12,145.98 607.62,145.64 608.12,145.25 608.61,144.80 609.11,144.31 609.61,143.79 610.10,143.25 610.60,142.69" fill="none" stroke="#da6224" stroke-width="2.5" stroke-linecap="butt"/>
<polyline points="580.30,138.54 580.80,138.81 581.29,139.14 581.79,139.53 582.29,139.97 582.78,140.46 583.28,140.98 583.78,141.52 584.27,142.09 584.77,142.65 585.27,143.21 585.76,143.76 586.26,144.28 586.76,144.77 587.25,145.22 587.75,145.62 588.25,145.96 588.74,146.24 589.24,146.45 589.74,146.58 590.23,146.65 590.73,146.63 591.23,146.55 591.72,146.38 592.22,146.15 592.72,145.85 593.21,145.49 593.71,145.08 594.21,144.62 594.70,144.11 595.20,143.58 595.70,143.03 596.20,142.46 596.69,141.90 597.19,141.34 597.69,140.80 598.18,140.29 598.68,139.82 599.18,139.39 599.67,139.02 600.17,138.71 600.67,138.46 601.16,138.28 601.66,138.18 602.16,138.15 602.65,138.20 603.15,138.32 603.65,138.51 604.14,138.77 604.64,139.10 605.14,139.49 605.63,139.92 606.13,140.40 606.63,140.92 607.12,141.46 607.62,142.02 608.12,142.59 608.61,143.15 609.11,143.70 609.61,144.23 610.10,144.72 610.60,145.18" fill="none" stroke="#da6224" stroke-width="2.5" stroke-linecap="butt"/>
<polyline points="300.00,163.75 300.50,163.84 301.00,163.84 301.49,163.78 301.99,163.63 302.49,163.42 302.99,163.14 303.48,162.79 303.98,162.39 304.48,161.94 304.98,161.45 305.47,160.92 305.97,160.37 306.47,159.81 306.97,159.24 307.46,158.68 307.96,158.14 308.46,157.62 308.96,157.13 309.45,156.69 309.95,156.31 310.45,155.98 310.95,155.71 311.44,155.52 311.94,155.40 312.44,155.35 312.94,155.38 313.43,155.48 313.93,155.66 314.43,155.91 314.93,156.22 315.42,156.59 315.92,157.02 316.42,157.49 316.92,158.00 317.41,158.54 317.91,159.10 318.41,159.67 318.91,160.23 319.40,160.79 319.90,161.32 320.40,161.82 320.90,162.28 321.39,162.70 321.89,163.06 322.39,163.36 322.89,163.59 323.38,163.75 323.88,163.83 324.38,163.85 324.88,163.78 325.37,163.64 325.87,163.43 326.37,163.15 326.87,162.81 327.36,162.41 327.86,161.96 328.36,161.46 328.86,160.94 329.35,160.39 329.85,159.83 330.35,159.26 330.85,158.70 331.34,158.15 331.84,157.63 332.34,157.15 332.84,156.71 333.33,156.32 333.83,155.99 334.33,155.72 334.83,155.53 335.32,155.40 335.82,155.35 336.32,155.38 336.82,155.48 337.31,155.65 337.81,155.90 338.31,156.21 338.81,156.58 339.30,157.01 339.80,157.48 340.30,157.99" fill="none" stroke="#efb294" stroke-width="2.5" stroke-linecap="butt"/>
<polyline points="300.00,156.01 300.50,156.34 301.00,156.74 301.49,157.18 301.99,157.67 302.49,158.19 302.99,158.73 303.48,159.30 303.98,159.86 304.48,160.43 304.98,160.97 305.47,161.50 305.97,161.99 306.47,162.43 306.97,162.83 307.46,163.17 307.96,163.44 308.46,163.65 308.96,163.79 309.45,163.85 309.95,163.83 310.45,163.74 310.95,163.58 311.44,163.34 311.94,163.04 312.44,162.67 312.94,162.26 313.43,161.79 313.93,161.29 314.43,160.75 314.93,160.20 315.42,159.63 315.92,159.06 316.42,158.51 316.92,157.97 317.41,157.46 317.91,156.99 318.41,156.57 318.91,156.20 319.40,155.89 319.90,155.65 320.40,155.47 320.90,155.37 321.39,155.35 321.89,155.40 322.39,155.53 322.89,155.73 323.38,156.00 323.88,156.33 324.38,156.72 324.88,157.16 325.37,157.65 325.87,158.17 326.37,158.72 326.87,159.28 327.36,159.84 327.86,160.41 328.36,160.96 328.86,161.48 329.35,161.97 329.85,162.42 330.35,162.82 330.85,163.16 331.34,163.44 331.84,163.65 332.34,163.78 332.84,163.85 333.33,163.83 333.83,163.74 334.33,163.58 334.83,163.35 335.32,163.05 335.82,162.69 336.32,162.27 336.82,161.81 337.31,161.30 337.81,160.77 338.31,160.21 338.81,159.65 339.30,159.08 339.80,158.52 340.30,157.99" fill="none" stroke="#efb294" stroke-width="2.5" stroke-linecap="butt"/>
<polyline points="340.30,157.99 340.79,158.52 341.28,159.07 341.77,159.63 342.26,160.18 342.75,160.73 343.24,161.26 343.73,161.76 344.23,162.22 344.72,162.64 345.21,163.00 345.70,163.31 346.19,163.55 346.68,163.72 347.17,163.82 347.66,163.85 348.15,163.80 348.64,163.68 349.13,163.50 349.62,163.24 350.11,162.92 350.60,162.54 351.10,162.11 351.59,161.64 352.08,161.13 352.57,160.60 353.06,160.05 353.55,159.49 354.04,158.93 354.53,158.38 355.02,157.86 355.51,157.37 356.00,156.91 356.49,156.50 356.98,156.15 357.47,155.85 357.97,155.62 358.46,155.46 358.95,155.37 359.44,155.35 359.93,155.41 360.42,155.54 360.91,155.74 361.40,156.01" fill="none" stroke="#ae9cc9" stroke-width="2.5" stroke-linecap="butt"/>
<polyline points="340.30,157.99 340.79,157.48 341.28,157.02 341.77,156.60 342.26,156.23 342.75,155.92 343.24,155.67 343.73,155.49 344.23,155.38 344.72,155.35 345.21,155.39 345.70,155.50 346.19,155.68 346.68,155.94 347.17,156.25 347.66,156.62 348.15,157.05 348.64,157.52 349.13,158.02 349.62,158.55 350.11,159.10 350.60,159.66 351.10,160.22 351.59,160.77 352.08,161.29 352.57,161.79 353.06,162.25 353.55,162.66 354.04,163.02 354.53,163.33 355.02,163.56 355.51,163.73 356.00,163.83 356.49,163.85 356.98,163.80 357.47,163.67 357.97,163.48 358.46,163.22 358.95,162.89 359.44,162.51 359.93,162.08 360.42,161.61 360.91,161.10 361.40,160.56" fill="none" stroke="#ae9cc9" stroke-width="2.5" stroke-linecap="butt"/>
<polyline points="361.40,156.01 361.89,156.34 362.38,156.73 362.88,157.16 363.37,157.64 363.86,158.16 364.35,158.69 364.84,159.25 365.33,159.81 365.83,160.37 366.32,160.91 366.81,161.43 367.30,161.92 367.79,162.37 368.29,162.77 368.78,163.12 369.27,163.40 369.76,163.62 370.25,163.76 370.74,163.84 371.24,163.84 371.73,163.77 372.22,163.62 372.71,163.41 373.20,163.13 373.70,162.78 374.19,162.39 374.68,161.94 375.17,161.45 375.66,160.93 376.15,160.39 376.65,159.83 377.14,159.27 377.63,158.72 378.12,158.18 378.61,157.66 379.10,157.18 379.60,156.74 380.09,156.35 380.58,156.02 381.07,155.75 381.56,155.55 382.06,155.41 382.55,155.35 383.04,155.37 383.53,155.46 384.02,155.62 384.51,155.84 385.01,156.14 385.50,156.49 385.99,156.90 386.48,157.36 386.97,157.85 387.47,158.38 387.96,158.93 388.45,159.48 388.94,160.05 389.43,160.60 389.92,161.13 390.42,161.64 390.91,162.11 391.40,162.54" fill="none" stroke="#4a2a82" stroke-width="2.5" stroke-linecap="butt"/>
<polyline points="361.40,160.56 361.89,160.01 362.38,159.45 362.88,158.89 363.37,158.34 363.86,157.82 364.35,157.33 364.84,156.87 365.33,156.47 365.83,156.12 366.32,155.83 366.81,155.60 367.30,155.45 367.79,155.36 368.29,155.36 368.78,155.42 369.27,155.56 369.76,155.77 370.25,156.04 370.74,156.38 371.24,156.77 371.73,157.21 372.22,157.70 372.71,158.21 373.20,158.75 373.70,159.31 374.19,159.87 374.68,160.43 375.17,160.97 375.66,161.49 376.15,161.97 376.65,162.41 377.14,162.81 377.63,163.15 378.12,163.43 378.61,163.64 379.10,163.78 379.60,163.84 380.09,163.84 380.58,163.76 381.07,163.60 381.56,163.38 382.06,163.09 382.55,162.74 383.04,162.34 383.53,161.89 384.02,161.40 384.51,160.88 385.01,160.33 385.50,159.77 385.99,159.21 386.48,158.66 386.97,158.12 387.47,157.61 387.96,157.13 388.45,156.70 388.94,156.31 389.43,155.99 389.92,155.72 390.42,155.53 390.91,155.40 391.40,155.35" fill="none" stroke="#4a2a82" stroke-width="2.5" stroke-linecap="butt"/>
<polyline points="391.40,162.54 391.90,162.93 392.40,163.25 392.90,163.51 393.40,163.70 393.90,163.81 394.40,163.85 394.90,163.81 395.40,163.70 395.90,163.51 396.40,163.25 396.90,162.93 397.40,162.55 397.89,162.11 398.39,161.63 398.89,161.11 399.39,160.57 399.89,160.01 400.39,159.44 400.89,158.87 401.39,158.32 401.89,157.79 402.39,157.29 402.89,156.83 403.39,156.43 403.89,156.08 404.39,155.79 404.89,155.57 405.39,155.43 405.89,155.36 406.39,155.36 406.89,155.44 407.39,155.60 407.89,155.83 408.39,156.13 408.89,156.48 409.39,156.90 409.89,157.36 410.38,157.87 410.88,158.40 411.38,158.96 411.88,159.52 412.38,160.09 412.88,160.65 413.38,161.19 413.88,161.71 414.38,162.18 414.88,162.61 415.38,162.98 415.88,163.30 416.38,163.54 416.88,163.72 417.38,163.82 417.88,163.85 418.38,163.80 418.88,163.67 419.38,163.47 419.88,163.21 420.38,162.87 420.88,162.48 421.38,162.04 421.88,161.55 422.38,161.03 422.87,160.48 423.37,159.91 423.87,159.34 424.37,158.78 424.87,158.23 425.37,157.70 425.87,157.21 426.37,156.76 426.87,156.37 427.37,156.03 427.87,155.75 428.37,155.54 428.87,155.41 429.37,155.35 429.87,155.37 430.37,155.47 430.87,155.63 431.37,155.87 431.87,156.18 432.37,156.55 432.87,156.97 433.37,157.44 433.87,157.95 434.37,158.49 434.86,159.05 435.36,159.62 435.86,160.18 436.36,160.74 436.86,161.28 437.36,161.79 437.86,162.25 438.36,162.67 438.86,163.04 439.36,163.34 439.86,163.58 440.36,163.74 440.86,163.83 441.36,163.85 441.86,163.78 442.36,163.65 442.86,163.44 443.36,163.16 443.86,162.81 444.36,162.41 444.86,161.96 445.36,161.47 445.86,160.94 446.36,160.39 446.86,159.82 447.35,159.25 447.85,158.69 448.35,158.14 448.85,157.62 449.35,157.14 449.85,156.69 450.35,156.31 450.85,155.98 451.35,155.71 451.85,155.52 452.35,155.40 452.85,155.35 453.35,155.38 453.85,155.49 454.35,155.67 454.85,155.92 455.35,156.24 455.85,156.61 456.35,157.04 456.85,157.52 457.35,158.04 457.85,158.58 458.35,159.14 458.85,159.71 459.35,160.28 459.84,160.83 460.34,161.36 460.84,161.87 461.34,162.33 461.84,162.74 462.34,163.09 462.84,163.39 463.34,163.61 463.84,163.76 464.34,163.84 464.84,163.84 465.34,163.77 465.84,163.62 466.34,163.39 466.84,163.10 467.34,162.75 467.84,162.34 468.34,161.88 468.84,161.38 469.34,160.85 469.84,160.30 470.34,159.73 470.84,159.16 471.34,158.60 471.84,158.06 472.33,157.54 472.83,157.06 473.33,156.63 473.83,156.25 474.33,155.93 474.83,155.68 475.33,155.49 475.83,155.38 476.33,155.35 476.83,155.39 477.33,155.51 477.83,155.70 478.33,155.97 478.83,156.29 479.33,156.68 479.83,157.12 480.33,157.60 480.83,158.12 481.33,158.67 481.83,159.23 482.33,159.80 482.83,160.37 483.33,160.92 483.83,161.45 484.32,161.94 484.82,162.40 485.32,162.80 485.82,163.14 486.32,163.43 486.82,163.64 487.32,163.78 487.82,163.85 488.32,163.83 488.82,163.75 489.32,163.59 489.82,163.35 490.32,163.05 490.82,162.69 491.32,162.27 491.82,161.80 492.32,161.30 492.82,160.76 493.32,160.21 493.82,159.64 494.32,159.07 494.82,158.51 495.32,157.97 495.82,157.46 496.32,156.99 496.81,156.56 497.31,156.19 497.81,155.88 498.31,155.64 498.81,155.47 499.31,155.37 499.81,155.35 500.31,155.41 500.81,155.54 501.31,155.74 501.81,156.01 502.31,156.35 502.81,156.75 503.31,157.19 503.81,157.69 504.31,158.21 504.81,158.76 505.31,159.32 505.81,159.89 506.31,160.46 506.81,161.01 507.31,161.53 507.81,162.02 508.31,162.47 508.81,162.86 509.30,163.20 509.80,163.47 510.30,163.67 510.80,163.80 511.30,163.85 511.80,163.83 512.30,163.73 512.80,163.55 513.30,163.31 513.80,163.00 514.30,162.62 514.80,162.20 515.30,161.73" fill="none" stroke="#ae9cc9" stroke-width="2.5" stroke-linecap="butt"/>
<polyline points="391.40,155.35 391.90,155.37 392.40,155.47 392.90,155.65 393.40,155.89 393.90,156.20 394.40,156.57 394.90,157.00 395.40,157.47 395.90,157.98 396.40,158.52 396.90,159.08 397.40,159.65 397.89,160.22 398.39,160.78 398.89,161.31 399.39,161.82 399.89,162.28 400.39,162.70 400.89,163.06 401.39,163.36 401.89,163.59 402.39,163.75 402.89,163.84 403.39,163.84 403.89,163.78 404.39,163.64 404.89,163.42 405.39,163.14 405.89,162.79 406.39,162.39 406.89,161.93 407.39,161.44 407.89,160.91 408.39,160.35 408.89,159.79 409.39,159.22 409.89,158.65 410.38,158.11 410.88,157.59 411.38,157.11 411.88,156.67 412.38,156.28 412.88,155.96 413.38,155.70 413.88,155.51 414.38,155.39 414.88,155.35 415.38,155.39 415.88,155.50 416.38,155.68 416.88,155.94 417.38,156.26 417.88,156.64 418.38,157.07 418.88,157.55 419.38,158.07 419.88,158.61 420.38,159.17 420.88,159.74 421.38,160.31 421.88,160.86 422.38,161.40 422.87,161.90 423.37,162.35 423.87,162.76 424.37,163.11 424.87,163.40 425.37,163.62 425.87,163.77 426.37,163.84 426.87,163.84 427.37,163.76 427.87,163.61 428.37,163.38 428.87,163.08 429.37,162.73 429.87,162.32 430.37,161.85 430.87,161.35 431.37,160.82 431.87,160.26 432.37,159.69 432.87,159.13 433.37,158.57 433.87,158.02 434.37,157.51 434.86,157.03 435.36,156.60 435.86,156.23 436.36,155.91 436.86,155.66 437.36,155.48 437.86,155.38 438.36,155.35 438.86,155.40 439.36,155.52 439.86,155.72 440.36,155.98 440.86,156.32 441.36,156.71 441.86,157.15 442.36,157.63 442.86,158.16 443.36,158.70 443.86,159.27 444.36,159.84 444.86,160.40 445.36,160.95 445.86,161.48 446.36,161.97 446.86,162.42 447.35,162.82 447.85,163.16 448.35,163.44 448.85,163.65 449.35,163.79 449.85,163.85 450.35,163.83 450.85,163.74 451.35,163.57 451.85,163.34 452.35,163.03 452.85,162.66 453.35,162.24 453.85,161.77 454.35,161.27 454.85,160.73 455.35,160.17 455.85,159.60 456.35,159.03 456.85,158.48 457.35,157.94 457.85,157.43 458.35,156.96 458.85,156.54 459.35,156.17 459.84,155.87 460.34,155.63 460.84,155.46 461.34,155.37 461.84,155.35 462.34,155.41 462.84,155.55 463.34,155.76 463.84,156.03 464.34,156.37 464.84,156.77 465.34,157.22 465.84,157.72 466.34,158.24 466.84,158.79 467.34,159.36 467.84,159.93 468.34,160.49 468.84,161.04 469.34,161.56 469.84,162.05 470.34,162.49 470.84,162.88 471.34,163.21 471.84,163.48 472.33,163.68 472.83,163.80 473.33,163.85 473.83,163.82 474.33,163.72 474.83,163.54 475.33,163.29 475.83,162.98 476.33,162.60 476.83,162.17 477.33,161.69 477.83,161.18 478.33,160.64 478.83,160.08 479.33,159.51 479.83,158.94 480.33,158.39 480.83,157.85 481.33,157.35 481.83,156.89 482.33,156.47 482.83,156.12 483.33,155.82 483.83,155.60 484.32,155.44 484.82,155.36 485.32,155.36 485.82,155.43 486.32,155.58 486.82,155.80 487.32,156.08 487.82,156.44 488.32,156.84 488.82,157.30 489.32,157.80 489.82,158.33 490.32,158.88 490.82,159.45 491.32,160.02 491.82,160.58 492.32,161.13 492.82,161.64 493.32,162.12 493.82,162.56 494.32,162.94 494.82,163.26 495.32,163.52 495.82,163.70 496.32,163.81 496.81,163.85 497.31,163.81 497.81,163.69 498.31,163.50 498.81,163.24 499.31,162.92 499.81,162.53 500.31,162.10 500.81,161.61 501.31,161.10 501.81,160.55 502.31,159.99 502.81,159.42 503.31,158.85 503.81,158.30 504.31,157.77 504.81,157.27 505.31,156.82 505.81,156.41 506.31,156.07 506.81,155.78 507.31,155.57 507.81,155.42 508.31,155.36 508.81,155.36 509.30,155.45 509.80,155.61 510.30,155.84 510.80,156.14 511.30,156.50 511.80,156.91 512.30,157.38 512.80,157.88 513.30,158.42 513.80,158.98 514.30,159.54 514.80,160.11 515.30,160.67" fill="none" stroke="#ae9cc9" stroke-width="2.5" stroke-linecap="butt"/>
<polyline points="515.30,161.73 515.80,161.21 516.30,160.68 516.80,160.12 517.29,159.55 517.79,158.98 518.29,158.43 518.79,157.89 519.29,157.39 519.79,156.92 520.28,156.51 520.78,156.15 521.28,155.85 521.78,155.61 522.28,155.45 522.78,155.37 523.27,155.35 523.77,155.42 524.27,155.56 524.77,155.77 525.27,156.05 525.77,156.39 526.26,156.79 526.76,157.25 527.26,157.74 527.76,158.26 528.26,158.81 528.76,159.38 529.25,159.95 529.75,160.51 530.25,161.06 530.75,161.58 531.25,162.06 531.75,162.50 532.25,162.89 532.74,163.22 533.24,163.48 533.74,163.68 534.24,163.80 534.74,163.85 535.24,163.82 535.73,163.72 536.23,163.54 536.73,163.29 537.23,162.98 537.73,162.60 538.23,162.18 538.72,161.70 539.22,161.19 539.72,160.65 540.22,160.09 540.72,159.52 541.22,158.96 541.71,158.40 542.21,157.87 542.71,157.37 543.21,156.90 543.71,156.49 544.21,156.13 544.70,155.83 545.20,155.61 545.70,155.45 546.20,155.36" fill="none" stroke="#4a2a82" stroke-width="2.5" stroke-linecap="butt"/>
<polyline points="515.30,160.67 515.80,161.21 516.30,161.72 516.80,162.19 517.29,162.62 517.79,162.99 518.29,163.30 518.79,163.55 519.29,163.72 519.79,163.82 520.28,163.85 520.78,163.80 521.28,163.67 521.78,163.47 522.28,163.21 522.78,162.87 523.27,162.48 523.77,162.04 524.27,161.55 524.77,161.03 525.27,160.49 525.77,159.92 526.26,159.36 526.76,158.79 527.26,158.24 527.76,157.72 528.26,157.23 528.76,156.78 529.25,156.38 529.75,156.04 530.25,155.76 530.75,155.55 531.25,155.41 531.75,155.35 532.25,155.37 532.74,155.46 533.24,155.62 533.74,155.86 534.24,156.16 534.74,156.52 535.24,156.94 535.73,157.41 536.23,157.92 536.73,158.45 537.23,159.01 537.73,159.57 538.23,160.14 538.72,160.70 539.22,161.24 539.72,161.75 540.22,162.22 540.72,162.64 541.22,163.01 541.71,163.32 542.21,163.56 542.71,163.73 543.21,163.83 543.71,163.85 544.21,163.79 544.70,163.66 545.20,163.46 545.70,163.19 546.20,162.86" fill="none" stroke="#4a2a82" stroke-width="2.5" stroke-linecap="butt"/>
<polyline points="546.20,155.36 546.69,155.36 547.18,155.42 547.68,155.56 548.17,155.77 548.66,156.05 549.15,156.38 549.65,156.78 550.14,157.22 550.63,157.71 551.12,158.23 551.62,158.77 552.11,159.32 552.60,159.89 553.09,160.44 553.58,160.98 554.08,161.50 554.57,161.99 555.06,162.43 555.55,162.82 556.05,163.16 556.54,163.43 557.03,163.64 557.52,163.78 558.02,163.84 558.51,163.84 559.00,163.75 559.49,163.60 559.98,163.37 560.48,163.08 560.97,162.73 561.46,162.32 561.95,161.87 562.45,161.37 562.94,160.85 563.43,160.30 563.92,159.74 564.42,159.18 564.91,158.63 565.40,158.09" fill="none" stroke="#ae9cc9" stroke-width="2.5" stroke-linecap="butt"/>
<polyline points="546.20,162.86 546.69,162.47 547.18,162.03 547.68,161.55 548.17,161.03 548.66,160.49 549.15,159.94 549.65,159.38 550.14,158.82 550.63,158.27 551.12,157.75 551.62,157.27 552.11,156.82 552.60,156.42 553.09,156.08 553.58,155.79 554.08,155.58 554.57,155.43 555.06,155.36 555.55,155.36 556.05,155.44 556.54,155.58 557.03,155.80 557.52,156.08 558.02,156.43 558.51,156.83 559.00,157.28 559.49,157.77 559.98,158.29 560.48,158.84 560.97,159.39 561.46,159.96 561.95,160.51 562.45,161.05 562.94,161.56 563.43,162.04 563.92,162.48 564.42,162.87 564.91,163.20 565.40,163.46" fill="none" stroke="#ae9cc9" stroke-width="2.5" stroke-linecap="butt"/>
<polyline points="565.40,158.09 565.90,157.58 566.39,157.10 566.89,156.66 567.39,156.28 567.88,155.96 568.38,155.70 568.88,155.51 569.37,155.39 569.87,155.35 570.37,155.38 570.86,155.49 571.36,155.67 571.86,155.92 572.35,156.24 572.85,156.62 573.35,157.04 573.84,157.52 574.34,158.03 574.84,158.57 575.33,159.13 575.83,159.69 576.33,160.26 576.82,160.81 577.32,161.34 577.82,161.84 578.31,162.30 578.81,162.71 579.31,163.07 579.80,163.36 580.30,163.59" fill="none" stroke="#efb294" stroke-width="2.5" stroke-linecap="butt"/>
<polyline points="565.40,163.46 565.90,163.66 566.39,163.79 566.89,163.85 567.39,163.83 567.88,163.73 568.38,163.56 568.88,163.32 569.37,163.02 569.87,162.65 570.37,162.23 570.86,161.76 571.36,161.26 571.86,160.72 572.35,160.17 572.85,159.60 573.35,159.03 573.84,158.48 574.34,157.94 574.84,157.44 575.33,156.97 575.83,156.55 576.33,156.18 576.82,155.88 577.32,155.64 577.82,155.47 578.31,155.37 578.81,155.35 579.31,155.41 579.80,155.54 580.30,155.74" fill="none" stroke="#efb294" stroke-width="2.5" stroke-linecap="butt"/>
<polyline points="580.30,163.59 580.80,163.75 581.29,163.84 581.79,163.84 582.29,163.78 582.78,163.64 583.28,163.42 583.78,163.14 584.27,162.80 584.77,162.40 585.27,161.95 585.76,161.46 586.26,160.93 586.76,160.39 587.25,159.82 587.75,159.26 588.25,158.70 588.74,158.15 589.24,157.63 589.74,157.15 590.23,156.71 590.73,156.32 591.23,155.99 591.72,155.72 592.22,155.53 592.72,155.40 593.21,155.35 593.71,155.38 594.21,155.48 594.70,155.65 595.20,155.89 595.70,156.20 596.20,156.57 596.69,156.99 597.19,157.46 597.69,157.97 598.18,158.51 598.68,159.06 599.18,159.63 599.67,160.19 600.17,160.75 600.67,161.28 601.16,161.79 601.66,162.25 602.16,162.67 602.65,163.03 603.15,163.34 603.65,163.57 604.14,163.74 604.64,163.83 605.14,163.85 605.63,163.79 606.13,163.66 606.63,163.45 607.12,163.18 607.62,162.84 608.12,162.45 608.61,162.00 609.11,161.51 609.61,160.99 610.10,160.45 610.60,159.89" fill="none" stroke="#da6224" stroke-width="2.5" stroke-linecap="butt"/>
<polyline points="580.30,155.74 580.80,156.01 581.29,156.34 581.79,156.73 582.29,157.17 582.78,157.66 583.28,158.18 583.78,158.72 584.27,159.29 584.77,159.85 585.27,160.41 585.76,160.96 586.26,161.48 586.76,161.97 587.25,162.42 587.75,162.82 588.25,163.16 588.74,163.44 589.24,163.65 589.74,163.78 590.23,163.85 590.73,163.83 591.23,163.75 591.72,163.58 592.22,163.35 592.72,163.05 593.21,162.69 593.71,162.28 594.21,161.82 594.70,161.31 595.20,160.78 595.70,160.23 596.20,159.66 596.69,159.10 597.19,158.54 597.69,158.00 598.18,157.49 598.68,157.02 599.18,156.59 599.67,156.22 600.17,155.91 600.67,155.66 601.16,155.48 601.66,155.38 602.16,155.35 602.65,155.40 603.15,155.52 603.65,155.71 604.14,155.97 604.64,156.30 605.14,156.69 605.63,157.12 606.13,157.60 606.63,158.12 607.12,158.66 607.62,159.22 608.12,159.79 608.61,160.35 609.11,160.90 609.61,161.43 610.10,161.92 610.60,162.38" fill="none" stroke="#da6224" stroke-width="2.5" stroke-linecap="butt"/>
<line x1="361.40" y1="136.20" x2="361.40" y2="148.40" stroke="#222" stroke-width="1.0" />
<line x1="361.40" y1="152.80" x2="361.40" y2="165.20" stroke="#222" stroke-width="1.0" />
<line x1="391.60" y1="136.20" x2="391.60" y2="148.40" stroke="#222" stroke-width="1.0" />
<line x1="391.60" y1="152.80" x2="391.60" y2="165.20" stroke="#222" stroke-width="1.0" />
<line x1="515.40" y1="136.20" x2="515.40" y2="148.40" stroke="#222" stroke-width="1.0" />
<line x1="515.40" y1="152.80" x2="515.40" y2="165.20" stroke="#222" stroke-width="1.0" />
<line x1="546.20" y1="136.20" x2="546.20" y2="148.40" stroke="#222" stroke-width="1.0" />
<line x1="546.20" y1="152.80" x2="546.20" y2="165.20" stroke="#222" stroke-width="1.0" />
<line x1="580.30" y1="136.20" x2="580.30" y2="148.40" stroke="#222" stroke-width="1.0" />
<line x1="580.30" y1="152.80" x2="580.30" y2="165.20" stroke="#222" stroke-width="1.0" />
<line x1="610.60" y1="136.20" x2="610.60" y2="148.40" stroke="#222" stroke-width="1.0" />
<line x1="610.60" y1="152.80" x2="610.60" y2="165.20" stroke="#222" stroke-width="1.0" />
<rect x="361.40" y="169.70" width="30.50" height="11.90" fill="#5aa846" stroke="none" stroke-width="0" />
<rect x="515.50" y="169.60" width="30.70" height="12.10" fill="#8a5aaa" stroke="none" stroke-width="0" />
<rect x="580.30" y="169.60" width="30.30" height="12.10" fill="#e98a30" stroke="none" stroke-width="0" />
<line x1="392.50" y1="175.70" x2="515.30" y2="175.70" stroke="#333" stroke-width="1.2" stroke-dasharray="2.2 2.35"/>
<line x1="546.80" y1="175.70" x2="580.30" y2="175.70" stroke="#333" stroke-width="1.2" stroke-dasharray="2.2 2.35"/>
<path d="M361.2,185.7 V189.3 H546.2 V185.7 M392.1,185.7 V189.3 M515.4,185.7 V189.3 M580.3,185.7 V189.3 H610.6 V185.7 M376.8,189.3 V192.9 M453.7,189.3 V192.9 M530.8,189.3 V192.9 M595.5,189.3 V192.9" fill="none" stroke="#1a1a1a" stroke-width="1.1"/>
<text x="366.85" y="209.00" font-size="12.6" font-weight="normal" fill="#231f20" stroke="#231f20" stroke-width="0.12" textLength="20.43" lengthAdjust="spacingAndGlyphs">Het</text>
<text x="359.08" y="223.40" font-size="12.6" font-weight="normal" fill="#231f20" stroke="#231f20" stroke-width="0.12" textLength="39.02" lengthAdjust="spacingAndGlyphs">marker</text>
<text x="409.75" y="209.00" font-size="12.6" font-weight="normal" fill="#231f20" stroke="#231f20" stroke-width="0.12" textLength="87.51" lengthAdjust="spacingAndGlyphs">Recombination</text>
<text x="510.45" y="208.80" font-size="12.6" font-weight="normal" fill="#231f20" stroke="#231f20" stroke-width="0.12" textLength="44.68" lengthAdjust="spacingAndGlyphs">Parent 1</text>
<text x="514.98" y="223.00" font-size="12.6" font-weight="normal" fill="#231f20" stroke="#231f20" stroke-width="0.12" textLength="39.33" lengthAdjust="spacingAndGlyphs">marker</text>
<text x="571.09" y="208.80" font-size="12.6" font-weight="normal" fill="#231f20" stroke="#231f20" stroke-width="0.12" textLength="47.64" lengthAdjust="spacingAndGlyphs">Parent 2</text>
<text x="576.98" y="223.00" font-size="12.6" font-weight="normal" fill="#231f20" stroke="#231f20" stroke-width="0.12" textLength="39.12" lengthAdjust="spacingAndGlyphs">marker</text>
<text x="143.46" y="252.50" font-size="12" font-weight="normal" fill="#231f20" stroke="#231f20" stroke-width="0.12" textLength="77.44" lengthAdjust="spacingAndGlyphs">SC5314×529L</text>
<text x="284.81" y="276.80" font-size="12" font-weight="normal" fill="#231f20" stroke="#231f20" stroke-width="0.12" textLength="34.01" lengthAdjust="spacingAndGlyphs"><tspan font-style="italic">n</tspan> = 75</text>
<line x1="48.80" y1="260.40" x2="48.80" y2="392.50" stroke="#a3a3a3" stroke-width="1.2" />
<line x1="48.60" y1="392.40" x2="319.80" y2="392.40" stroke="#6a6a6a" stroke-width="1.1" />
<rect x="48.90" y="379.32" width="12.60" height="12.88" fill="#22bdc5" stroke="#262626" stroke-width="0.8" />
<rect x="61.50" y="366.44" width="12.60" height="25.76" fill="#22bdc5" stroke="#262626" stroke-width="0.8" />
<rect x="74.10" y="363.22" width="12.60" height="28.98" fill="#22bdc5" stroke="#262626" stroke-width="0.8" />
<rect x="86.70" y="363.22" width="12.60" height="28.98" fill="#22bdc5" stroke="#262626" stroke-width="0.8" />
<rect x="99.30" y="347.12" width="12.60" height="45.08" fill="#22bdc5" stroke="#262626" stroke-width="0.8" />
<rect x="111.90" y="382.54" width="12.60" height="9.66" fill="#22bdc5" stroke="#262626" stroke-width="0.8" />
<rect x="124.50" y="388.98" width="12.60" height="3.22" fill="#22bdc5" stroke="#262626" stroke-width="0.8" />
<rect x="137.10" y="388.98" width="12.60" height="3.22" fill="#22bdc5" stroke="#262626" stroke-width="0.8" />
<rect x="174.90" y="388.98" width="12.60" height="3.22" fill="#22bdc5" stroke="#262626" stroke-width="0.8" />
<rect x="187.50" y="382.54" width="12.60" height="9.66" fill="#22bdc5" stroke="#262626" stroke-width="0.8" />
<rect x="200.10" y="379.32" width="12.60" height="12.88" fill="#22bdc5" stroke="#262626" stroke-width="0.8" />
<rect x="212.70" y="379.32" width="12.60" height="12.88" fill="#22bdc5" stroke="#262626" stroke-width="0.8" />
<rect x="225.30" y="385.76" width="12.60" height="6.44" fill="#22bdc5" stroke="#262626" stroke-width="0.8" />
<rect x="237.90" y="388.98" width="12.60" height="3.22" fill="#22bdc5" stroke="#262626" stroke-width="0.8" />
<rect x="250.50" y="379.32" width="12.60" height="12.88" fill="#22bdc5" stroke="#262626" stroke-width="0.8" />
<rect x="275.70" y="388.98" width="12.60" height="3.22" fill="#22bdc5" stroke="#262626" stroke-width="0.8" />
<rect x="288.30" y="388.98" width="12.60" height="3.22" fill="#22bdc5" stroke="#262626" stroke-width="0.8" />
<rect x="300.90" y="376.10" width="12.60" height="16.10" fill="#22bdc5" stroke="#262626" stroke-width="0.8" />
<line x1="45.30" y1="260.40" x2="48.60" y2="260.40" stroke="#555" stroke-width="1.0" />
<line x1="45.30" y1="325.80" x2="48.60" y2="325.80" stroke="#555" stroke-width="1.0" />
<line x1="45.30" y1="391.30" x2="48.60" y2="391.30" stroke="#555" stroke-width="1.0" />
<line x1="55.30" y1="392.20" x2="55.30" y2="394.70" stroke="#231f20" stroke-width="1.0" />
<line x1="118.35" y1="392.20" x2="118.35" y2="394.70" stroke="#231f20" stroke-width="1.0" />
<line x1="181.40" y1="392.20" x2="181.40" y2="394.70" stroke="#231f20" stroke-width="1.0" />
<line x1="244.45" y1="392.20" x2="244.45" y2="394.70" stroke="#231f20" stroke-width="1.0" />
<line x1="307.50" y1="392.20" x2="307.50" y2="394.70" stroke="#231f20" stroke-width="1.0" />
<text x="53.73" y="407.40" font-size="10.1" font-weight="normal" fill="#231f20" stroke="#231f20" stroke-width="0.12" textLength="7.18" lengthAdjust="spacingAndGlyphs">0</text>
<text x="111.13" y="407.40" font-size="10.1" font-weight="normal" fill="#231f20" stroke="#231f20" stroke-width="0.12" textLength="12.76" lengthAdjust="spacingAndGlyphs">25</text>
<text x="174.12" y="407.40" font-size="10.1" font-weight="normal" fill="#231f20" stroke="#231f20" stroke-width="0.12" textLength="13.22" lengthAdjust="spacingAndGlyphs">50</text>
<text x="237.13" y="407.40" font-size="10.1" font-weight="normal" fill="#231f20" stroke="#231f20" stroke-width="0.12" textLength="12.65" lengthAdjust="spacingAndGlyphs">75</text>
<text x="297.16" y="407.40" font-size="10.1" font-weight="normal" fill="#231f20" stroke="#231f20" stroke-width="0.12" textLength="18.67" lengthAdjust="spacingAndGlyphs">100</text>
<text x="27.05" y="266.00" font-size="10.1" font-weight="normal" fill="#231f20" stroke="#231f20" stroke-width="0.12" textLength="13.81" lengthAdjust="spacingAndGlyphs">40</text>
<text x="26.98" y="332.00" font-size="10.1" font-weight="normal" fill="#231f20" stroke="#231f20" stroke-width="0.12" textLength="13.89" lengthAdjust="spacingAndGlyphs">20</text>
<text x="33.38" y="395.70" font-size="10.1" font-weight="normal" fill="#231f20" stroke="#231f20" stroke-width="0.12" textLength="7.18" lengthAdjust="spacingAndGlyphs">0</text>
<text x="89.95" y="425.90" font-size="12.6" font-weight="normal" fill="#231f20" stroke="#231f20" stroke-width="0.12" textLength="190.44" lengthAdjust="spacingAndGlyphs">Number of recombination events</text>
<text x="-1.05" y="0" font-size="12.6" fill="#231f20" stroke="#231f20" stroke-width="0.12" textLength="112.86" lengthAdjust="spacingAndGlyphs" transform="translate(10.00,382.30) rotate(-90)">Number of progeny</text>
<text x="481.33" y="252.30" font-size="12" font-weight="normal" fill="#231f20" stroke="#231f20" stroke-width="0.12" textLength="96.00" lengthAdjust="spacingAndGlyphs">SC5314×P60002</text>
<text x="633.00" y="276.70" font-size="12" font-weight="normal" fill="#231f20" stroke="#231f20" stroke-width="0.12" textLength="34.57" lengthAdjust="spacingAndGlyphs"><tspan font-style="italic">n</tspan> = 70</text>
<line x1="394.40" y1="391.50" x2="664.50" y2="391.50" stroke="#8e8e8e" stroke-width="1.1" />
<rect x="394.30" y="280.22" width="12.58" height="111.18" fill="#f2756e" stroke="#333" stroke-width="0.8" />
<rect x="406.88" y="286.76" width="12.58" height="104.64" fill="#f2756e" stroke="#333" stroke-width="0.8" />
<rect x="419.46" y="384.86" width="12.58" height="6.54" fill="#f2756e" stroke="#333" stroke-width="0.8" />
<rect x="432.04" y="388.13" width="12.58" height="3.27" fill="#f2756e" stroke="#333" stroke-width="0.8" />
<rect x="469.78" y="388.13" width="12.58" height="3.27" fill="#f2756e" stroke="#333" stroke-width="0.8" />
<line x1="394.40" y1="260.30" x2="394.40" y2="391.60" stroke="#231f20" stroke-width="1.1" />
<line x1="391.00" y1="260.30" x2="394.40" y2="260.30" stroke="#231f20" stroke-width="1.0" />
<line x1="391.00" y1="325.70" x2="394.40" y2="325.70" stroke="#231f20" stroke-width="1.0" />
<line x1="391.00" y1="391.00" x2="394.40" y2="391.00" stroke="#231f20" stroke-width="1.0" />
<line x1="400.60" y1="391.40" x2="400.60" y2="394.00" stroke="#231f20" stroke-width="1.0" />
<line x1="463.50" y1="391.40" x2="463.50" y2="394.00" stroke="#231f20" stroke-width="1.0" />
<line x1="526.40" y1="391.40" x2="526.40" y2="394.00" stroke="#231f20" stroke-width="1.0" />
<line x1="589.30" y1="391.40" x2="589.30" y2="394.00" stroke="#231f20" stroke-width="1.0" />
<line x1="652.20" y1="391.40" x2="652.20" y2="394.00" stroke="#231f20" stroke-width="1.0" />
<text x="398.88" y="407.80" font-size="10.1" font-weight="normal" fill="#231f20" stroke="#231f20" stroke-width="0.12" textLength="7.18" lengthAdjust="spacingAndGlyphs">0</text>
<text x="456.58" y="407.80" font-size="10.1" font-weight="normal" fill="#231f20" stroke="#231f20" stroke-width="0.12" textLength="12.76" lengthAdjust="spacingAndGlyphs">25</text>
<text x="519.37" y="407.80" font-size="10.1" font-weight="normal" fill="#231f20" stroke="#231f20" stroke-width="0.12" textLength="13.22" lengthAdjust="spacingAndGlyphs">50</text>
<text x="581.43" y="407.80" font-size="10.1" font-weight="normal" fill="#231f20" stroke="#231f20" stroke-width="0.12" textLength="12.65" lengthAdjust="spacingAndGlyphs">75</text>
<text x="641.36" y="407.80" font-size="10.1" font-weight="normal" fill="#231f20" stroke="#231f20" stroke-width="0.12" textLength="18.67" lengthAdjust="spacingAndGlyphs">100</text>
<text x="372.05" y="265.70" font-size="10.1" font-weight="normal" fill="#231f20" stroke="#231f20" stroke-width="0.12" textLength="13.81" lengthAdjust="spacingAndGlyphs">40</text>
<text x="371.98" y="331.40" font-size="10.1" font-weight="normal" fill="#231f20" stroke="#231f20" stroke-width="0.12" textLength="13.89" lengthAdjust="spacingAndGlyphs">20</text>
<text x="378.48" y="396.20" font-size="10.1" font-weight="normal" fill="#231f20" stroke="#231f20" stroke-width="0.12" textLength="7.18" lengthAdjust="spacingAndGlyphs">0</text>
<text x="437.35" y="425.90" font-size="12.6" font-weight="normal" fill="#231f20" stroke="#231f20" stroke-width="0.12" textLength="189.94" lengthAdjust="spacingAndGlyphs">Number of recombination events</text>
<text x="-1.05" y="0" font-size="12.6" fill="#231f20" stroke="#231f20" stroke-width="0.12" textLength="112.46" lengthAdjust="spacingAndGlyphs" transform="translate(360.60,381.90) rotate(-90)">Number of progeny</text>
<path d="M49.30,588.70V584.70M51.43,588.70V583.70M53.18,588.70V587.70M55.15,588.70V587.70M56.52,588.70V588.20M58.60,588.70V586.70M59.55,588.70V583.70M61.00,588.70V586.70M62.01,588.70V583.70M62.99,588.70V578.70M64.05,588.70V586.70M65.77,588.70V578.70M67.90,588.70V578.70M69.57,588.70V588.20M71.73,588.70V588.20M73.36,588.70V587.20M74.63,588.70V587.20M76.24,588.70V578.70M77.54,588.70V587.20M78.57,588.70V578.70M80.30,588.70V584.70M81.33,588.70V587.70M82.96,588.70V578.70M84.13,588.70V580.70M85.59,588.70V584.70M87.09,588.70V582.70M88.46,588.70V586.70M90.39,588.70V586.70M91.40,588.70V585.70M92.98,588.70V584.70M94.83,588.70V585.70M96.52,588.70V587.70M97.58,588.70V583.70M98.69,588.70V584.70M99.79,588.70V582.70M101.24,588.70V587.70M103.13,588.70V578.70M105.06,588.70V584.70M106.40,588.70V584.70M108.07,588.70V578.70M110.01,588.70V587.70M117.41,588.70V588.20M119.26,588.70V585.70M121.00,588.70V582.70M122.27,588.70V583.70M124.32,588.70V584.70M125.25,588.70V582.70M126.61,588.70V578.70M127.67,588.70V588.20M128.85,588.70V585.70M129.92,588.70V586.70M131.34,588.70V582.70M132.34,588.70V582.70M133.76,588.70V585.70M139.80,588.70V585.70M141.62,588.70V584.70M143.41,588.70V583.70M145.55,588.70V587.20M146.56,588.70V587.20M147.76,588.70V586.70M148.68,588.70V578.70M149.81,588.70V585.70M150.72,588.70V583.70M152.31,588.70V578.70M153.95,588.70V587.20M157.32,588.70V578.70M159.07,588.70V588.20M160.56,588.70V580.70M161.97,588.70V583.70M163.38,588.70V582.70M165.11,588.70V588.20M166.26,588.70V586.70M167.73,588.70V587.70M169.07,588.70V588.20M170.10,588.70V578.70M171.20,588.70V587.70M173.33,588.70V578.70M174.27,588.70V586.70M175.97,588.70V587.20M177.69,588.70V584.70M179.37,588.70V582.70M180.43,588.70V582.70M182.62,588.70V582.70M184.15,588.70V585.70M185.16,588.70V587.70M187.04,588.70V585.70M188.56,588.70V587.20M190.13,588.70V586.70M192.27,588.70V580.70M193.64,588.70V580.70M195.72,588.70V580.70M197.01,588.70V587.70M198.82,588.70V585.70M200.39,588.70V587.20M201.75,588.70V586.70M203.35,588.70V580.70M204.67,588.70V586.70M206.37,588.70V586.70M208.32,588.70V583.70M210.18,588.70V586.70M211.34,588.70V582.70M212.70,588.70V588.20M214.89,588.70V585.70M216.40,588.70V586.70M218.20,588.70V584.70M219.68,588.70V584.70M221.83,588.70V584.70M222.83,588.70V587.70M224.03,588.70V586.70M225.36,588.70V582.70M227.08,588.70V578.70M229.07,588.70V582.70M231.15,588.70V584.70M233.09,588.70V587.70M235.08,588.70V587.70M237.16,588.70V586.70M238.68,588.70V587.20M240.14,588.70V584.70M241.16,588.70V583.70M244.52,588.70V587.70M246.37,588.70V587.20M248.56,588.70V588.20M249.65,588.70V582.70M251.60,588.70V587.20M253.30,588.70V578.70M255.47,588.70V584.70M256.58,588.70V580.70M257.65,588.70V588.20M259.58,588.70V587.70M261.17,588.70V587.20M262.63,588.70V586.70M264.61,588.70V586.70M268.27,588.70V578.70M269.60,588.70V580.70M271.04,588.70V587.20M272.02,588.70V584.70M274.09,588.70V578.70M276.05,588.70V580.70M277.49,588.70V580.70M292.65,588.70V587.70M297.17,588.70V580.70M298.70,588.70V587.70M300.75,588.70V588.20M301.97,588.70V585.70M302.93,588.70V587.70M304.49,588.70V580.70M305.42,588.70V587.70M306.90,588.70V578.70M309.06,588.70V578.70M310.63,588.70V585.70M312.12,588.70V580.70M314.07,588.70V580.70M316.19,588.70V580.70M318.23,588.70V585.70M320.33,588.70V586.70M324.46,588.70V582.70M325.77,588.70V586.70M327.23,588.70V586.70" stroke="#20b7c1" stroke-width="0.8" fill="none"/>
<path d="M51.50,588.70V562.36M52.50,588.70V520.55M52.50,588.70V553.12M53.50,588.70V575.07M54.50,588.70V584.31M55.50,588.70V540.42M56.50,588.70V585.47M57.50,588.70V543.30M57.50,588.70V566.98M58.50,588.70V576.22M59.50,588.70V523.09M60.50,588.70V555.43M60.50,588.70V546.19M61.50,588.70V525.17M62.50,588.70V585.47M63.50,588.70V575.07M66.50,588.70V560.05M67.50,588.70V562.36M68.50,588.70V562.36M69.50,588.70V532.33M69.50,588.70V558.90M70.50,588.70V584.31M71.50,588.70V555.43M72.50,588.70V549.66M73.50,588.70V545.04M74.50,588.70V533.48M74.50,588.70V534.64M75.50,588.70V561.21M76.50,588.70V536.37M77.50,588.70V571.03M78.50,588.70V580.85M79.50,588.70V579.11M80.50,588.70V583.16M81.50,588.70V580.85M82.50,588.70V569.29M83.50,588.70V545.04M84.50,588.70V585.47M85.50,588.70V546.19M86.50,588.70V546.19M86.50,588.70V560.05M87.50,588.70V549.08M88.50,588.70V562.36M89.50,588.70V578.53M90.50,588.70V560.05M90.50,588.70V582.00M91.50,588.70V569.29M92.50,588.70V557.16M92.50,588.70V550.81M93.50,588.70V549.66M94.50,588.70V547.92M95.50,588.70V538.11M95.50,588.70V550.81M96.50,588.70V583.16M97.50,588.70V571.03M97.50,588.70V576.22M99.50,588.70V559.48M100.50,588.70V564.67M101.50,588.70V561.21M101.50,588.70V578.53M102.50,588.70V582.00M103.50,588.70V545.04M104.50,588.70V545.61M106.50,588.70V565.83M107.50,588.70V523.09M108.50,588.70V579.69M109.50,588.70V550.81M109.50,588.70V548.50M110.50,588.70V543.88M110.50,588.70V549.66M112.50,588.70V539.84M113.50,588.70V523.09M116.50,588.70V583.16M118.50,588.70V584.31M119.50,588.70V576.80M120.50,588.70V575.07M121.50,588.70V567.56M123.50,588.70V568.14M124.50,588.70V568.14M126.50,588.70V562.36M127.50,588.70V571.03M128.50,588.70V571.60M129.50,588.70V556.01M130.50,588.70V540.42M131.50,588.70V556.01M132.50,588.70V556.01M133.50,588.70V583.16M134.50,588.70V583.16M137.50,588.70V580.85M138.50,588.70V579.69M140.50,588.70V560.05M141.50,588.70V583.16M142.50,588.70V561.21M143.50,588.70V577.38M144.50,588.70V570.45M145.50,588.70V570.45M146.50,588.70V577.38M146.50,588.70V564.10M147.50,588.70V569.29M148.50,588.70V578.53M150.50,588.70V566.41M151.50,588.70V573.91M152.50,588.70V577.38M153.50,588.70V560.05M155.50,588.70V582.00M156.50,588.70V547.92M157.50,588.70V536.37M158.50,588.70V540.42M159.50,588.70V568.14M159.50,588.70V582.00M160.50,588.70V556.59M161.50,588.70V579.69M162.50,588.70V564.10M162.50,588.70V580.85M163.50,588.70V579.69M164.50,588.70V579.11M165.50,588.70V538.11M166.50,588.70V560.05M167.50,588.70V560.05M168.50,588.70V583.16M169.50,588.70V586.62M170.50,588.70V584.31M173.50,588.70V586.62M176.50,588.70V568.54M177.50,588.70V570.18M179.50,588.70V580.01M180.50,588.70V564.44M181.50,588.70V575.09M183.50,588.70V562.80M184.50,588.70V570.18M185.50,588.70V584.93M186.50,588.70V573.45M187.50,588.70V582.47M189.50,588.70V580.83M190.50,588.70V584.93M191.50,588.70V569.36M192.50,588.70V575.91M193.50,588.70V583.29M195.50,588.70V575.91M196.50,588.70V557.39M197.50,588.70V566.08M198.50,588.70V584.93M200.50,588.70V563.62M202.50,588.70V481.32M203.50,588.70V575.09M205.50,588.70V575.09M205.50,588.70V559.52M206.50,588.70V570.18M208.50,588.70V584.93M210.50,588.70V582.47M211.50,588.70V580.83M212.50,588.70V580.83M214.50,588.70V566.90M215.50,588.70V581.65M216.50,588.70V584.93M218.50,588.70V573.45M219.50,588.70V551.32M221.50,588.70V548.04M222.50,588.70V582.47M223.50,588.70V573.45M224.50,588.70V584.93M226.50,588.70V580.83M227.50,588.70V547.22M229.50,588.70V584.93M231.50,588.70V575.09M232.50,588.70V581.65M235.50,588.70V584.93M236.50,588.70V571.81M238.50,588.70V581.65M239.50,588.70V543.62M240.50,588.70V542.88M240.50,588.70V575.01M241.50,588.70V574.31M242.50,588.70V577.80M243.50,588.70V580.60M245.50,588.70V565.23M246.50,588.70V572.21M246.50,588.70V579.90M247.50,588.70V549.16M248.50,588.70V565.23M249.50,588.70V565.23M250.50,588.70V544.97M251.50,588.70V512.42M252.50,588.70V576.41M253.50,588.70V540.78M253.50,588.70V544.97M254.50,588.70V556.15M255.50,588.70V568.72M256.50,588.70V576.41M257.50,588.70V572.21M258.50,588.70V572.21M259.50,588.70V525.83M260.50,588.70V541.48M261.50,588.70V572.91M263.50,588.70V567.33M265.50,588.70V533.10M265.50,588.70V531.70M266.50,588.70V531.00M267.50,588.70V533.80M268.50,588.70V534.49M269.50,588.70V537.29M271.50,588.70V584.79M272.50,588.70V584.09M275.50,588.70V547.77M277.50,588.70V580.60M278.50,588.70V566.35M281.50,588.70V586.19M283.50,588.70V547.07M284.50,588.70V583.39M285.50,588.70V586.19M286.50,588.70V549.16M287.50,588.70V556.85M290.50,588.70V579.20M291.50,588.70V577.80M292.50,588.70V577.10M296.50,588.70V563.83M296.50,588.70V566.63M297.50,588.70V577.80M299.50,588.70V552.66M300.50,588.70V577.80M301.50,588.70V566.63M302.50,588.70V558.24M303.50,588.70V541.48M304.50,588.70V553.35M305.50,588.70V586.19M307.50,588.70V564.53M308.50,588.70V530.30M309.50,588.70V544.27M310.50,588.70V553.35M311.50,588.70V586.19M312.50,588.70V545.67M313.50,588.70V512.42M314.50,588.70V557.55M315.50,588.70V561.74M316.50,588.70V583.39M317.50,588.70V576.41M318.50,588.70V576.41M319.50,588.70V582.69M320.50,588.70V583.39M324.50,588.70V584.79M325.50,588.70V584.79M327.50,588.70V584.79" stroke="#20b7c1" stroke-width="1.0" fill="none"/>
<line x1="48.60" y1="588.40" x2="327.60" y2="588.40" stroke="#20b7c1" stroke-width="0.8" />
<line x1="48.50" y1="457.20" x2="48.50" y2="589.00" stroke="#8a8a8a" stroke-width="1.1" />
<line x1="45.00" y1="457.20" x2="48.50" y2="457.20" stroke="#555" stroke-width="1.0" />
<line x1="45.00" y1="522.90" x2="48.50" y2="522.90" stroke="#555" stroke-width="1.0" />
<line x1="45.00" y1="588.70" x2="48.50" y2="588.70" stroke="#555" stroke-width="1.0" />
<line x1="112.30" y1="588.70" x2="112.30" y2="591.70" stroke="#231f20" stroke-width="1.1" />
<line x1="155.40" y1="588.70" x2="155.40" y2="591.70" stroke="#231f20" stroke-width="1.1" />
<line x1="189.80" y1="588.70" x2="189.80" y2="591.70" stroke="#231f20" stroke-width="1.1" />
<line x1="220.90" y1="588.70" x2="220.90" y2="591.70" stroke="#231f20" stroke-width="1.1" />
<line x1="243.50" y1="588.70" x2="243.50" y2="591.70" stroke="#231f20" stroke-width="1.1" />
<line x1="263.40" y1="588.70" x2="263.40" y2="591.70" stroke="#231f20" stroke-width="1.1" />
<line x1="282.10" y1="588.70" x2="282.10" y2="591.70" stroke="#231f20" stroke-width="1.1" />
<text x="35.31" y="461.30" font-size="10.1" font-weight="normal" fill="#231f20" stroke="#231f20" stroke-width="0.12" textLength="5.11" lengthAdjust="spacingAndGlyphs">1</text>
<text x="24.65" y="527.50" font-size="10.1" font-weight="normal" fill="#231f20" stroke="#231f20" stroke-width="0.12" textLength="15.81" lengthAdjust="spacingAndGlyphs">0.5</text>
<text x="33.28" y="594.00" font-size="10.1" font-weight="normal" fill="#231f20" stroke="#231f20" stroke-width="0.12" textLength="7.18" lengthAdjust="spacingAndGlyphs">0</text>
<text x="77.21" y="605.50" font-size="10.1" font-weight="normal" fill="#231f20" stroke="#231f20" stroke-width="0.12" textLength="5.11" lengthAdjust="spacingAndGlyphs">1</text>
<text x="130.42" y="605.50" font-size="10.1" font-weight="normal" fill="#231f20" stroke="#231f20" stroke-width="0.12" textLength="6.18" lengthAdjust="spacingAndGlyphs">2</text>
<text x="169.42" y="605.50" font-size="10.1" font-weight="normal" fill="#231f20" stroke="#231f20" stroke-width="0.12" textLength="6.18" lengthAdjust="spacingAndGlyphs">3</text>
<text x="202.64" y="605.50" font-size="10.1" font-weight="normal" fill="#231f20" stroke="#231f20" stroke-width="0.12" textLength="6.18" lengthAdjust="spacingAndGlyphs">4</text>
<text x="229.52" y="605.50" font-size="10.1" font-weight="normal" fill="#231f20" stroke="#231f20" stroke-width="0.12" textLength="6.18" lengthAdjust="spacingAndGlyphs">5</text>
<text x="250.46" y="605.50" font-size="10.1" font-weight="normal" fill="#231f20" stroke="#231f20" stroke-width="0.12" textLength="6.18" lengthAdjust="spacingAndGlyphs">6</text>
<text x="268.02" y="605.50" font-size="10.1" font-weight="normal" fill="#231f20" stroke="#231f20" stroke-width="0.12" textLength="6.18" lengthAdjust="spacingAndGlyphs">7</text>
<text x="298.01" y="605.50" font-size="10.1" font-weight="normal" fill="#231f20" stroke="#231f20" stroke-width="0.12" textLength="8.02" lengthAdjust="spacingAndGlyphs">R</text>
<text x="158.35" y="621.70" font-size="12.6" font-weight="normal" fill="#231f20" stroke="#231f20" stroke-width="0.12" textLength="78.37" lengthAdjust="spacingAndGlyphs">Chromosome</text>
<text x="-1.04" y="0" font-size="12.6" fill="#231f20" stroke="#231f20" stroke-width="0.12" textLength="159.07" lengthAdjust="spacingAndGlyphs" transform="translate(9.70,601.40) rotate(-90)">Recombinations per marker</text>
<path d="M398.60,588.40V583.30M399.30,588.40V583.40M403.20,588.40V586.50M404.40,588.40V574.40M416.40,588.40V586.90M417.40,588.40V585.30M423.20,588.40V586.90M424.40,588.40V585.40M425.60,588.40V585.40M427.30,588.40V578.50M434.30,588.40V585.40M438.40,588.40V510.30M439.30,588.40V573.40M441.60,588.40V562.40M442.20,588.40V579.20M463.50,588.40V582.90M464.60,588.40V581.40M465.30,588.40V581.40M474.80,588.40V582.40M475.50,588.40V551.20M504.40,588.40V586.40M506.60,588.40V586.40M507.70,588.40V586.40M509.20,588.40V577.20M509.90,588.40V577.90M510.50,588.40V557.20M511.40,588.40V580.80M521.60,588.40V586.40M523.40,588.40V586.40M524.20,588.40V585.40M525.00,588.40V584.40M525.70,588.40V582.60M531.40,588.40V583.40M532.30,588.40V583.40M540.60,588.40V586.40M542.50,588.40V585.90M554.50,588.40V583.40M556.20,588.40V582.40M557.10,588.40V584.40M558.10,588.40V585.40M559.60,588.40V586.40M566.60,588.40V576.40M583.50,588.40V585.90M590.30,588.40V586.40M591.40,588.40V586.90M594.40,588.40V492.40M599.50,588.40V584.40M600.30,588.40V585.40M602.00,588.40V582.10M602.70,588.40V583.40M607.10,588.40V584.90M608.30,588.40V586.40M617.80,588.40V579.20M637.80,588.40V585.00M656.80,588.40V586.40M660.40,588.40V586.40" stroke="#f0817b" stroke-width="0.9" fill="none"/>
<line x1="394.70" y1="588.20" x2="672.80" y2="588.20" stroke="#f29a95" stroke-width="0.9" />
<line x1="394.70" y1="457.50" x2="394.70" y2="588.70" stroke="#231f20" stroke-width="1.1" />
<line x1="391.00" y1="457.50" x2="394.70" y2="457.50" stroke="#231f20" stroke-width="1.0" />
<line x1="391.00" y1="523.00" x2="394.70" y2="523.00" stroke="#231f20" stroke-width="1.0" />
<line x1="391.00" y1="588.40" x2="394.70" y2="588.40" stroke="#231f20" stroke-width="1.0" />
<line x1="457.60" y1="588.40" x2="457.60" y2="591.40" stroke="#231f20" stroke-width="1.1" />
<line x1="501.20" y1="588.40" x2="501.20" y2="591.40" stroke="#231f20" stroke-width="1.1" />
<line x1="535.50" y1="588.40" x2="535.50" y2="591.40" stroke="#231f20" stroke-width="1.1" />
<line x1="566.40" y1="588.40" x2="566.40" y2="591.40" stroke="#231f20" stroke-width="1.1" />
<line x1="589.30" y1="588.40" x2="589.30" y2="591.40" stroke="#231f20" stroke-width="1.1" />
<line x1="609.60" y1="588.40" x2="609.60" y2="591.40" stroke="#231f20" stroke-width="1.1" />
<line x1="627.60" y1="588.40" x2="627.60" y2="591.40" stroke="#231f20" stroke-width="1.1" />
<text x="380.91" y="462.50" font-size="10.1" font-weight="normal" fill="#231f20" stroke="#231f20" stroke-width="0.12" textLength="5.11" lengthAdjust="spacingAndGlyphs">1</text>
<text x="370.25" y="528.30" font-size="10.1" font-weight="normal" fill="#231f20" stroke="#231f20" stroke-width="0.12" textLength="15.81" lengthAdjust="spacingAndGlyphs">0.5</text>
<text x="378.88" y="594.00" font-size="10.1" font-weight="normal" fill="#231f20" stroke="#231f20" stroke-width="0.12" textLength="7.18" lengthAdjust="spacingAndGlyphs">0</text>
<text x="422.91" y="605.50" font-size="10.1" font-weight="normal" fill="#231f20" stroke="#231f20" stroke-width="0.12" textLength="5.11" lengthAdjust="spacingAndGlyphs">1</text>
<text x="475.42" y="605.50" font-size="10.1" font-weight="normal" fill="#231f20" stroke="#231f20" stroke-width="0.12" textLength="6.18" lengthAdjust="spacingAndGlyphs">2</text>
<text x="516.22" y="605.50" font-size="10.1" font-weight="normal" fill="#231f20" stroke="#231f20" stroke-width="0.12" textLength="6.18" lengthAdjust="spacingAndGlyphs">3</text>
<text x="548.94" y="605.50" font-size="10.1" font-weight="normal" fill="#231f20" stroke="#231f20" stroke-width="0.12" textLength="6.18" lengthAdjust="spacingAndGlyphs">4</text>
<text x="572.02" y="605.50" font-size="10.1" font-weight="normal" fill="#231f20" stroke="#231f20" stroke-width="0.12" textLength="6.18" lengthAdjust="spacingAndGlyphs">5</text>
<text x="597.16" y="605.50" font-size="10.1" font-weight="normal" fill="#231f20" stroke="#231f20" stroke-width="0.12" textLength="6.18" lengthAdjust="spacingAndGlyphs">6</text>
<text x="614.32" y="605.50" font-size="10.1" font-weight="normal" fill="#231f20" stroke="#231f20" stroke-width="0.12" textLength="6.18" lengthAdjust="spacingAndGlyphs">7</text>
<text x="642.41" y="605.50" font-size="10.1" font-weight="normal" fill="#231f20" stroke="#231f20" stroke-width="0.12" textLength="8.02" lengthAdjust="spacingAndGlyphs">R</text>
<text x="501.45" y="621.60" font-size="12.6" font-weight="normal" fill="#231f20" stroke="#231f20" stroke-width="0.12" textLength="78.37" lengthAdjust="spacingAndGlyphs">Chromosome</text>
<text x="-1.04" y="0" font-size="12.6" fill="#231f20" stroke="#231f20" stroke-width="0.12" textLength="159.17" lengthAdjust="spacingAndGlyphs" transform="translate(361.20,601.70) rotate(-90)">Recombinations per marker</text>
<rect x="50.86" y="726.03" width="3.67" height="60.67" fill="#22bdc5" stroke="#1c1c1c" stroke-width="0.7" />
<rect x="54.53" y="665.35" width="3.67" height="121.35" fill="#22bdc5" stroke="#1c1c1c" stroke-width="0.7" />
<rect x="58.21" y="712.65" width="3.67" height="74.05" fill="#22bdc5" stroke="#1c1c1c" stroke-width="0.7" />
<rect x="61.88" y="716.24" width="3.67" height="70.46" fill="#22bdc5" stroke="#1c1c1c" stroke-width="0.7" />
<rect x="65.56" y="718.52" width="3.67" height="68.18" fill="#22bdc5" stroke="#1c1c1c" stroke-width="0.7" />
<rect x="69.23" y="738.42" width="3.67" height="48.28" fill="#22bdc5" stroke="#1c1c1c" stroke-width="0.7" />
<rect x="72.91" y="754.41" width="3.67" height="32.29" fill="#22bdc5" stroke="#1c1c1c" stroke-width="0.7" />
<rect x="76.58" y="754.41" width="3.67" height="32.29" fill="#22bdc5" stroke="#1c1c1c" stroke-width="0.7" />
<rect x="80.26" y="761.91" width="3.67" height="24.79" fill="#22bdc5" stroke="#1c1c1c" stroke-width="0.7" />
<rect x="83.94" y="758.32" width="3.67" height="28.38" fill="#22bdc5" stroke="#1c1c1c" stroke-width="0.7" />
<rect x="87.61" y="773.65" width="3.67" height="13.05" fill="#22bdc5" stroke="#1c1c1c" stroke-width="0.7" />
<rect x="91.28" y="770.39" width="3.67" height="16.31" fill="#22bdc5" stroke="#1c1c1c" stroke-width="0.7" />
<rect x="94.96" y="766.48" width="3.67" height="20.22" fill="#22bdc5" stroke="#1c1c1c" stroke-width="0.7" />
<rect x="98.63" y="774.30" width="3.67" height="12.40" fill="#22bdc5" stroke="#1c1c1c" stroke-width="0.7" />
<rect x="102.31" y="779.52" width="3.67" height="7.18" fill="#22bdc5" stroke="#1c1c1c" stroke-width="0.7" />
<rect x="105.98" y="771.37" width="3.67" height="15.33" fill="#22bdc5" stroke="#1c1c1c" stroke-width="0.7" />
<rect x="109.66" y="766.48" width="3.67" height="20.22" fill="#22bdc5" stroke="#1c1c1c" stroke-width="0.7" />
<rect x="113.33" y="776.26" width="3.67" height="10.44" fill="#22bdc5" stroke="#1c1c1c" stroke-width="0.7" />
<rect x="117.01" y="780.18" width="3.67" height="6.52" fill="#22bdc5" stroke="#1c1c1c" stroke-width="0.7" />
<rect x="120.69" y="782.79" width="3.67" height="3.91" fill="#22bdc5" stroke="#1c1c1c" stroke-width="0.7" />
<rect x="124.36" y="777.89" width="3.67" height="8.81" fill="#22bdc5" stroke="#1c1c1c" stroke-width="0.7" />
<rect x="128.03" y="779.85" width="3.67" height="6.85" fill="#22bdc5" stroke="#1c1c1c" stroke-width="0.7" />
<rect x="131.71" y="778.55" width="3.67" height="8.15" fill="#22bdc5" stroke="#1c1c1c" stroke-width="0.7" />
<rect x="135.38" y="782.46" width="3.67" height="4.24" fill="#22bdc5" stroke="#1c1c1c" stroke-width="0.7" />
<rect x="139.06" y="778.22" width="3.67" height="8.48" fill="#22bdc5" stroke="#1c1c1c" stroke-width="0.7" />
<rect x="142.74" y="777.24" width="3.67" height="9.46" fill="#22bdc5" stroke="#1c1c1c" stroke-width="0.7" />
<rect x="146.41" y="779.52" width="3.67" height="7.18" fill="#22bdc5" stroke="#1c1c1c" stroke-width="0.7" />
<rect x="150.08" y="782.79" width="3.67" height="3.91" fill="#22bdc5" stroke="#1c1c1c" stroke-width="0.7" />
<rect x="153.76" y="781.15" width="3.67" height="5.55" fill="#22bdc5" stroke="#1c1c1c" stroke-width="0.7" />
<rect x="157.44" y="782.13" width="3.67" height="4.57" fill="#22bdc5" stroke="#1c1c1c" stroke-width="0.7" />
<rect x="161.11" y="782.79" width="3.67" height="3.91" fill="#22bdc5" stroke="#1c1c1c" stroke-width="0.7" />
<rect x="164.78" y="778.55" width="3.67" height="8.15" fill="#22bdc5" stroke="#1c1c1c" stroke-width="0.7" />
<rect x="168.46" y="785.07" width="3.67" height="1.63" fill="#22bdc5" stroke="#1c1c1c" stroke-width="0.7" />
<rect x="172.13" y="784.42" width="3.67" height="2.28" fill="#22bdc5" stroke="#1c1c1c" stroke-width="0.7" />
<rect x="175.81" y="775.94" width="3.67" height="10.76" fill="#22bdc5" stroke="#1c1c1c" stroke-width="0.7" />
<rect x="179.49" y="785.72" width="3.67" height="0.98" fill="#22bdc5" stroke="#1c1c1c" stroke-width="0.7" />
<rect x="183.16" y="785.40" width="3.67" height="1.30" fill="#22bdc5" stroke="#1c1c1c" stroke-width="0.7" />
<rect x="186.83" y="785.07" width="3.67" height="1.63" fill="#22bdc5" stroke="#1c1c1c" stroke-width="0.7" />
<rect x="190.51" y="785.40" width="3.67" height="1.30" fill="#22bdc5" stroke="#1c1c1c" stroke-width="0.7" />
<rect x="194.19" y="784.74" width="3.67" height="1.96" fill="#22bdc5" stroke="#1c1c1c" stroke-width="0.7" />
<rect x="197.86" y="784.42" width="3.67" height="2.28" fill="#22bdc5" stroke="#1c1c1c" stroke-width="0.7" />
<rect x="201.53" y="784.74" width="3.67" height="1.96" fill="#22bdc5" stroke="#1c1c1c" stroke-width="0.7" />
<rect x="205.21" y="786.05" width="3.67" height="0.65" fill="#22bdc5" stroke="#1c1c1c" stroke-width="0.7" />
<rect x="208.88" y="786.37" width="3.67" height="0.33" fill="#22bdc5" stroke="#1c1c1c" stroke-width="0.7" />
<rect x="212.56" y="785.40" width="3.67" height="1.30" fill="#22bdc5" stroke="#1c1c1c" stroke-width="0.7" />
<rect x="216.24" y="783.11" width="3.67" height="3.59" fill="#22bdc5" stroke="#1c1c1c" stroke-width="0.7" />
<rect x="219.91" y="783.44" width="3.67" height="3.26" fill="#22bdc5" stroke="#1c1c1c" stroke-width="0.7" />
<rect x="223.58" y="785.40" width="3.67" height="1.30" fill="#22bdc5" stroke="#1c1c1c" stroke-width="0.7" />
<rect x="227.26" y="785.40" width="3.67" height="1.30" fill="#22bdc5" stroke="#1c1c1c" stroke-width="0.7" />
<rect x="230.94" y="786.05" width="3.67" height="0.65" fill="#22bdc5" stroke="#1c1c1c" stroke-width="0.7" />
<rect x="234.61" y="785.40" width="3.67" height="1.30" fill="#22bdc5" stroke="#1c1c1c" stroke-width="0.7" />
<rect x="238.28" y="786.37" width="3.67" height="0.33" fill="#22bdc5" stroke="#1c1c1c" stroke-width="0.7" />
<rect x="241.96" y="785.40" width="3.67" height="1.30" fill="#22bdc5" stroke="#1c1c1c" stroke-width="0.7" />
<rect x="245.63" y="786.37" width="3.67" height="0.33" fill="#22bdc5" stroke="#1c1c1c" stroke-width="0.7" />
<rect x="249.31" y="785.40" width="3.67" height="1.30" fill="#22bdc5" stroke="#1c1c1c" stroke-width="0.7" />
<rect x="252.99" y="784.74" width="3.67" height="1.96" fill="#22bdc5" stroke="#1c1c1c" stroke-width="0.7" />
<rect x="256.66" y="786.37" width="3.67" height="0.33" fill="#22bdc5" stroke="#1c1c1c" stroke-width="0.7" />
<rect x="271.36" y="785.40" width="3.67" height="1.30" fill="#22bdc5" stroke="#1c1c1c" stroke-width="0.7" />
<rect x="275.03" y="783.44" width="3.67" height="3.26" fill="#22bdc5" stroke="#1c1c1c" stroke-width="0.7" />
<rect x="278.71" y="786.37" width="3.67" height="0.33" fill="#22bdc5" stroke="#1c1c1c" stroke-width="0.7" />
<rect x="282.38" y="786.37" width="3.67" height="0.33" fill="#22bdc5" stroke="#1c1c1c" stroke-width="0.7" />
<rect x="289.74" y="786.37" width="3.67" height="0.33" fill="#22bdc5" stroke="#1c1c1c" stroke-width="0.7" />
<rect x="300.76" y="786.37" width="3.67" height="0.33" fill="#22bdc5" stroke="#1c1c1c" stroke-width="0.7" />
<rect x="308.11" y="785.40" width="3.67" height="1.30" fill="#22bdc5" stroke="#1c1c1c" stroke-width="0.7" />
<rect x="315.46" y="786.37" width="3.67" height="0.33" fill="#22bdc5" stroke="#1c1c1c" stroke-width="0.7" />
<rect x="319.13" y="786.37" width="3.67" height="0.33" fill="#22bdc5" stroke="#1c1c1c" stroke-width="0.7" />
<rect x="322.81" y="785.07" width="3.67" height="1.63" fill="#22bdc5" stroke="#1c1c1c" stroke-width="0.7" />
<line x1="49.50" y1="786.70" x2="329.00" y2="786.70" stroke="#333" stroke-width="0.9" />
<line x1="49.50" y1="655.80" x2="49.50" y2="787.10" stroke="#231f20" stroke-width="1.1" />
<line x1="45.90" y1="655.80" x2="49.50" y2="655.80" stroke="#444" stroke-width="1.0" />
<line x1="45.90" y1="721.10" x2="49.50" y2="721.10" stroke="#444" stroke-width="1.0" />
<line x1="45.90" y1="786.70" x2="49.50" y2="786.70" stroke="#444" stroke-width="1.0" />
<line x1="52.70" y1="786.70" x2="52.70" y2="789.50" stroke="#231f20" stroke-width="1.0" />
<line x1="144.60" y1="786.70" x2="144.60" y2="789.50" stroke="#231f20" stroke-width="1.0" />
<line x1="236.50" y1="786.70" x2="236.50" y2="789.50" stroke="#231f20" stroke-width="1.0" />
<line x1="328.40" y1="786.70" x2="328.40" y2="789.50" stroke="#231f20" stroke-width="1.0" />
<text x="20.25" y="660.80" font-size="10.1" font-weight="normal" fill="#231f20" stroke="#231f20" stroke-width="0.12" textLength="20.52" lengthAdjust="spacingAndGlyphs">400</text>
<text x="20.29" y="726.10" font-size="10.1" font-weight="normal" fill="#231f20" stroke="#231f20" stroke-width="0.12" textLength="20.49" lengthAdjust="spacingAndGlyphs">200</text>
<text x="33.58" y="791.30" font-size="10.1" font-weight="normal" fill="#231f20" stroke="#231f20" stroke-width="0.12" textLength="7.18" lengthAdjust="spacingAndGlyphs">0</text>
<text x="48.38" y="801.70" font-size="10.1" font-weight="normal" fill="#231f20" stroke="#231f20" stroke-width="0.12" textLength="7.18" lengthAdjust="spacingAndGlyphs">0</text>
<text x="136.11" y="801.70" font-size="10.1" font-weight="normal" fill="#231f20" stroke="#231f20" stroke-width="0.12" textLength="19.75" lengthAdjust="spacingAndGlyphs">250</text>
<text x="226.20" y="801.70" font-size="10.1" font-weight="normal" fill="#231f20" stroke="#231f20" stroke-width="0.12" textLength="20.78" lengthAdjust="spacingAndGlyphs">500</text>
<text x="315.71" y="801.70" font-size="10.1" font-weight="normal" fill="#231f20" stroke="#231f20" stroke-width="0.12" textLength="19.64" lengthAdjust="spacingAndGlyphs">750</text>
<text x="158.76" y="819.90" font-size="12.6" font-weight="normal" fill="#231f20" stroke="#231f20" stroke-width="0.12" textLength="65.87" lengthAdjust="spacingAndGlyphs">Length (kb)</text>
<text x="-1.05" y="0" font-size="12.6" fill="#231f20" stroke="#231f20" stroke-width="0.12" textLength="123.58" lengthAdjust="spacingAndGlyphs" transform="translate(10.00,782.80) rotate(-90)">Number of fragments</text>
<line x1="394.40" y1="786.30" x2="673.50" y2="786.30" stroke="#b8b8b8" stroke-width="1.0" />
<rect x="396.27" y="779.80" width="3.67" height="6.50" fill="#f2756e" stroke="#1c1c1c" stroke-width="0.7" />
<rect x="399.94" y="758.10" width="3.67" height="28.20" fill="#f2756e" stroke="#1c1c1c" stroke-width="0.7" />
<rect x="403.61" y="785.00" width="3.67" height="1.30" fill="#f2756e" stroke="#1c1c1c" stroke-width="0.7" />
<rect x="407.28" y="784.55" width="3.67" height="1.75" fill="#f2756e" stroke="#1c1c1c" stroke-width="0.7" />
<rect x="410.95" y="784.80" width="3.67" height="1.50" fill="#f2756e" stroke="#1c1c1c" stroke-width="0.7" />
<rect x="414.62" y="783.70" width="3.67" height="2.60" fill="#f2756e" stroke="#1c1c1c" stroke-width="0.7" />
<rect x="421.96" y="785.50" width="3.67" height="0.80" fill="#f2756e" stroke="#1c1c1c" stroke-width="0.7" />
<rect x="432.97" y="785.60" width="3.67" height="0.70" fill="#f2756e" stroke="#1c1c1c" stroke-width="0.7" />
<rect x="436.64" y="785.60" width="3.67" height="0.70" fill="#f2756e" stroke="#1c1c1c" stroke-width="0.7" />
<rect x="451.32" y="785.30" width="3.67" height="1.00" fill="#f2756e" stroke="#1c1c1c" stroke-width="0.7" />
<rect x="469.67" y="773.10" width="3.67" height="13.20" fill="#f2756e" stroke="#1c1c1c" stroke-width="0.7" />
<rect x="477.01" y="785.70" width="3.67" height="0.60" fill="#f2756e" stroke="#1c1c1c" stroke-width="0.7" />
<rect x="484.35" y="785.80" width="3.67" height="0.50" fill="#f2756e" stroke="#1c1c1c" stroke-width="0.7" />
<rect x="506.37" y="785.30" width="3.67" height="1.00" fill="#f2756e" stroke="#1c1c1c" stroke-width="0.7" />
<rect x="535.73" y="785.30" width="3.67" height="1.00" fill="#f2756e" stroke="#1c1c1c" stroke-width="0.7" />
<rect x="539.39" y="785.30" width="3.67" height="1.00" fill="#f2756e" stroke="#1c1c1c" stroke-width="0.7" />
<rect x="550.40" y="785.30" width="3.67" height="1.00" fill="#f2756e" stroke="#1c1c1c" stroke-width="0.7" />
<rect x="557.75" y="785.30" width="3.67" height="1.00" fill="#f2756e" stroke="#1c1c1c" stroke-width="0.7" />
<rect x="576.10" y="785.30" width="3.67" height="1.00" fill="#f2756e" stroke="#1c1c1c" stroke-width="0.7" />
<rect x="561.42" y="786.00" width="3.67" height="0.30" fill="#f2756e" stroke="#1c1c1c" stroke-width="0.7" />
<rect x="583.44" y="786.00" width="3.67" height="0.30" fill="#f2756e" stroke="#1c1c1c" stroke-width="0.7" />
<rect x="598.12" y="785.50" width="3.67" height="0.80" fill="#f2756e" stroke="#1c1c1c" stroke-width="0.7" />
<rect x="609.12" y="786.00" width="3.67" height="0.30" fill="#f2756e" stroke="#1c1c1c" stroke-width="0.7" />
<rect x="623.81" y="786.00" width="3.67" height="0.30" fill="#f2756e" stroke="#1c1c1c" stroke-width="0.7" />
<rect x="642.15" y="786.00" width="3.67" height="0.30" fill="#f2756e" stroke="#1c1c1c" stroke-width="0.7" />
<rect x="521.05" y="786.00" width="3.67" height="0.30" fill="#f2756e" stroke="#1c1c1c" stroke-width="0.7" />
<rect x="513.71" y="786.00" width="3.67" height="0.30" fill="#f2756e" stroke="#1c1c1c" stroke-width="0.7" />
<rect x="491.69" y="786.00" width="3.67" height="0.30" fill="#f2756e" stroke="#1c1c1c" stroke-width="0.7" />
<line x1="394.40" y1="653.20" x2="394.40" y2="786.70" stroke="#231f20" stroke-width="1.1" />
<line x1="390.90" y1="653.20" x2="394.40" y2="653.20" stroke="#444" stroke-width="1.0" />
<line x1="390.90" y1="719.20" x2="394.40" y2="719.20" stroke="#444" stroke-width="1.0" />
<line x1="390.90" y1="786.30" x2="394.40" y2="786.30" stroke="#444" stroke-width="1.0" />
<line x1="398.10" y1="786.30" x2="398.10" y2="789.10" stroke="#231f20" stroke-width="1.0" />
<line x1="490.00" y1="786.30" x2="490.00" y2="789.10" stroke="#231f20" stroke-width="1.0" />
<line x1="582.00" y1="786.30" x2="582.00" y2="789.10" stroke="#231f20" stroke-width="1.0" />
<line x1="673.20" y1="786.30" x2="673.20" y2="789.10" stroke="#231f20" stroke-width="1.0" />
<text x="366.85" y="659.20" font-size="10.1" font-weight="normal" fill="#231f20" stroke="#231f20" stroke-width="0.12" textLength="20.52" lengthAdjust="spacingAndGlyphs">400</text>
<text x="366.89" y="725.20" font-size="10.1" font-weight="normal" fill="#231f20" stroke="#231f20" stroke-width="0.12" textLength="20.49" lengthAdjust="spacingAndGlyphs">200</text>
<text x="380.18" y="790.60" font-size="10.1" font-weight="normal" fill="#231f20" stroke="#231f20" stroke-width="0.12" textLength="7.18" lengthAdjust="spacingAndGlyphs">0</text>
<text x="394.48" y="801.70" font-size="10.1" font-weight="normal" fill="#231f20" stroke="#231f20" stroke-width="0.12" textLength="7.18" lengthAdjust="spacingAndGlyphs">0</text>
<text x="482.36" y="801.70" font-size="10.1" font-weight="normal" fill="#231f20" stroke="#231f20" stroke-width="0.12" textLength="19.75" lengthAdjust="spacingAndGlyphs">250</text>
<text x="572.60" y="801.70" font-size="10.1" font-weight="normal" fill="#231f20" stroke="#231f20" stroke-width="0.12" textLength="20.78" lengthAdjust="spacingAndGlyphs">500</text>
<text x="664.21" y="801.70" font-size="10.1" font-weight="normal" fill="#231f20" stroke="#231f20" stroke-width="0.12" textLength="19.64" lengthAdjust="spacingAndGlyphs">750</text>
<text x="507.16" y="819.90" font-size="12.6" font-weight="normal" fill="#231f20" stroke="#231f20" stroke-width="0.12" textLength="66.08" lengthAdjust="spacingAndGlyphs">Length (kb)</text>
<text x="-1.05" y="0" font-size="12.6" fill="#231f20" stroke="#231f20" stroke-width="0.12" textLength="123.18" lengthAdjust="spacingAndGlyphs" transform="translate(360.60,781.20) rotate(-90)">Number of fragments</text>
<path d="M395.8,745.5 H494.8" fill="none" stroke="#1a1a1a" stroke-width="1.2" stroke-dasharray="5.7 5.25" stroke-dashoffset="2.95"/>
<path d="M395.8,786.2 H494.8" fill="none" stroke="#1a1a1a" stroke-width="1.1" stroke-dasharray="5.7 5.25" stroke-dashoffset="2.95"/>
<path d="M395.9,786 V745.5" fill="none" stroke="#777" stroke-width="1.2" stroke-dasharray="5.5 5" stroke-dashoffset="1"/>
<path d="M494.8,745.5 V786" fill="none" stroke="#1a1a1a" stroke-width="1.2" stroke-dasharray="5.5 5" stroke-dashoffset="2"/>
<path d="M396.5,745 L535,667.3" fill="none" stroke="#1a1a1a" stroke-width="1.1" stroke-dasharray="5.7 5.25"/>
<path d="M495.5,785.8 L676,748.2" fill="none" stroke="#1a1a1a" stroke-width="1.1" stroke-dasharray="5.7 5.25"/>
<path d="M559.5,653.5 H676" fill="none" stroke="#1a1a1a" stroke-width="1.2" stroke-dasharray="5.9 4.1" stroke-dashoffset="1"/>
<path d="M675.6,653.5 V748" fill="none" stroke="#1a1a1a" stroke-width="1.2" stroke-dasharray="5.5 4.5" stroke-dashoffset="0"/>
<line x1="561.00" y1="748.00" x2="677.10" y2="748.00" stroke="#1a1a1a" stroke-width="1.0" />
<rect x="562.87" y="734.46" width="4.26" height="13.54" fill="#f2756e" stroke="#1c1c1c" stroke-width="0.8" />
<rect x="567.13" y="691.32" width="4.26" height="56.68" fill="#f2756e" stroke="#1c1c1c" stroke-width="0.8" />
<rect x="571.38" y="745.46" width="4.26" height="2.54" fill="#f2756e" stroke="#1c1c1c" stroke-width="0.8" />
<rect x="575.64" y="743.77" width="4.26" height="4.23" fill="#f2756e" stroke="#1c1c1c" stroke-width="0.8" />
<rect x="579.90" y="744.62" width="4.26" height="3.38" fill="#f2756e" stroke="#1c1c1c" stroke-width="0.8" />
<rect x="584.15" y="742.08" width="4.26" height="5.92" fill="#f2756e" stroke="#1c1c1c" stroke-width="0.8" />
<rect x="592.66" y="746.31" width="4.26" height="1.69" fill="#f2756e" stroke="#1c1c1c" stroke-width="0.8" />
<rect x="596.92" y="747.49" width="4.26" height="0.51" fill="#f2756e" stroke="#1c1c1c" stroke-width="0.8" />
<rect x="605.43" y="746.31" width="4.26" height="1.69" fill="#f2756e" stroke="#1c1c1c" stroke-width="0.8" />
<rect x="609.69" y="746.31" width="4.26" height="1.69" fill="#f2756e" stroke="#1c1c1c" stroke-width="0.8" />
<rect x="626.71" y="745.46" width="4.26" height="2.54" fill="#f2756e" stroke="#1c1c1c" stroke-width="0.8" />
<rect x="647.99" y="720.93" width="4.26" height="27.07" fill="#f2756e" stroke="#1c1c1c" stroke-width="0.8" />
<rect x="656.50" y="746.73" width="4.26" height="1.27" fill="#f2756e" stroke="#1c1c1c" stroke-width="0.8" />
<rect x="665.02" y="747.15" width="4.26" height="0.85" fill="#f2756e" stroke="#1c1c1c" stroke-width="0.8" />
<line x1="561.00" y1="653.40" x2="561.00" y2="748.40" stroke="#777" stroke-width="1.1" />
<line x1="557.30" y1="663.10" x2="561.00" y2="663.10" stroke="#444" stroke-width="1.0" />
<line x1="557.30" y1="705.40" x2="561.00" y2="705.40" stroke="#444" stroke-width="1.0" />
<line x1="557.30" y1="748.00" x2="561.00" y2="748.00" stroke="#444" stroke-width="1.0" />
<line x1="565.00" y1="748.00" x2="565.00" y2="750.80" stroke="#231f20" stroke-width="1.0" />
<line x1="671.60" y1="748.00" x2="671.60" y2="750.80" stroke="#231f20" stroke-width="1.0" />
<text x="533.86" y="666.60" font-size="10.1" font-weight="normal" fill="#231f20" stroke="#231f20" stroke-width="0.12" textLength="18.67" lengthAdjust="spacingAndGlyphs">100</text>
<text x="539.32" y="708.70" font-size="10.1" font-weight="normal" fill="#231f20" stroke="#231f20" stroke-width="0.12" textLength="13.22" lengthAdjust="spacingAndGlyphs">50</text>
</svg>
</body></html>
